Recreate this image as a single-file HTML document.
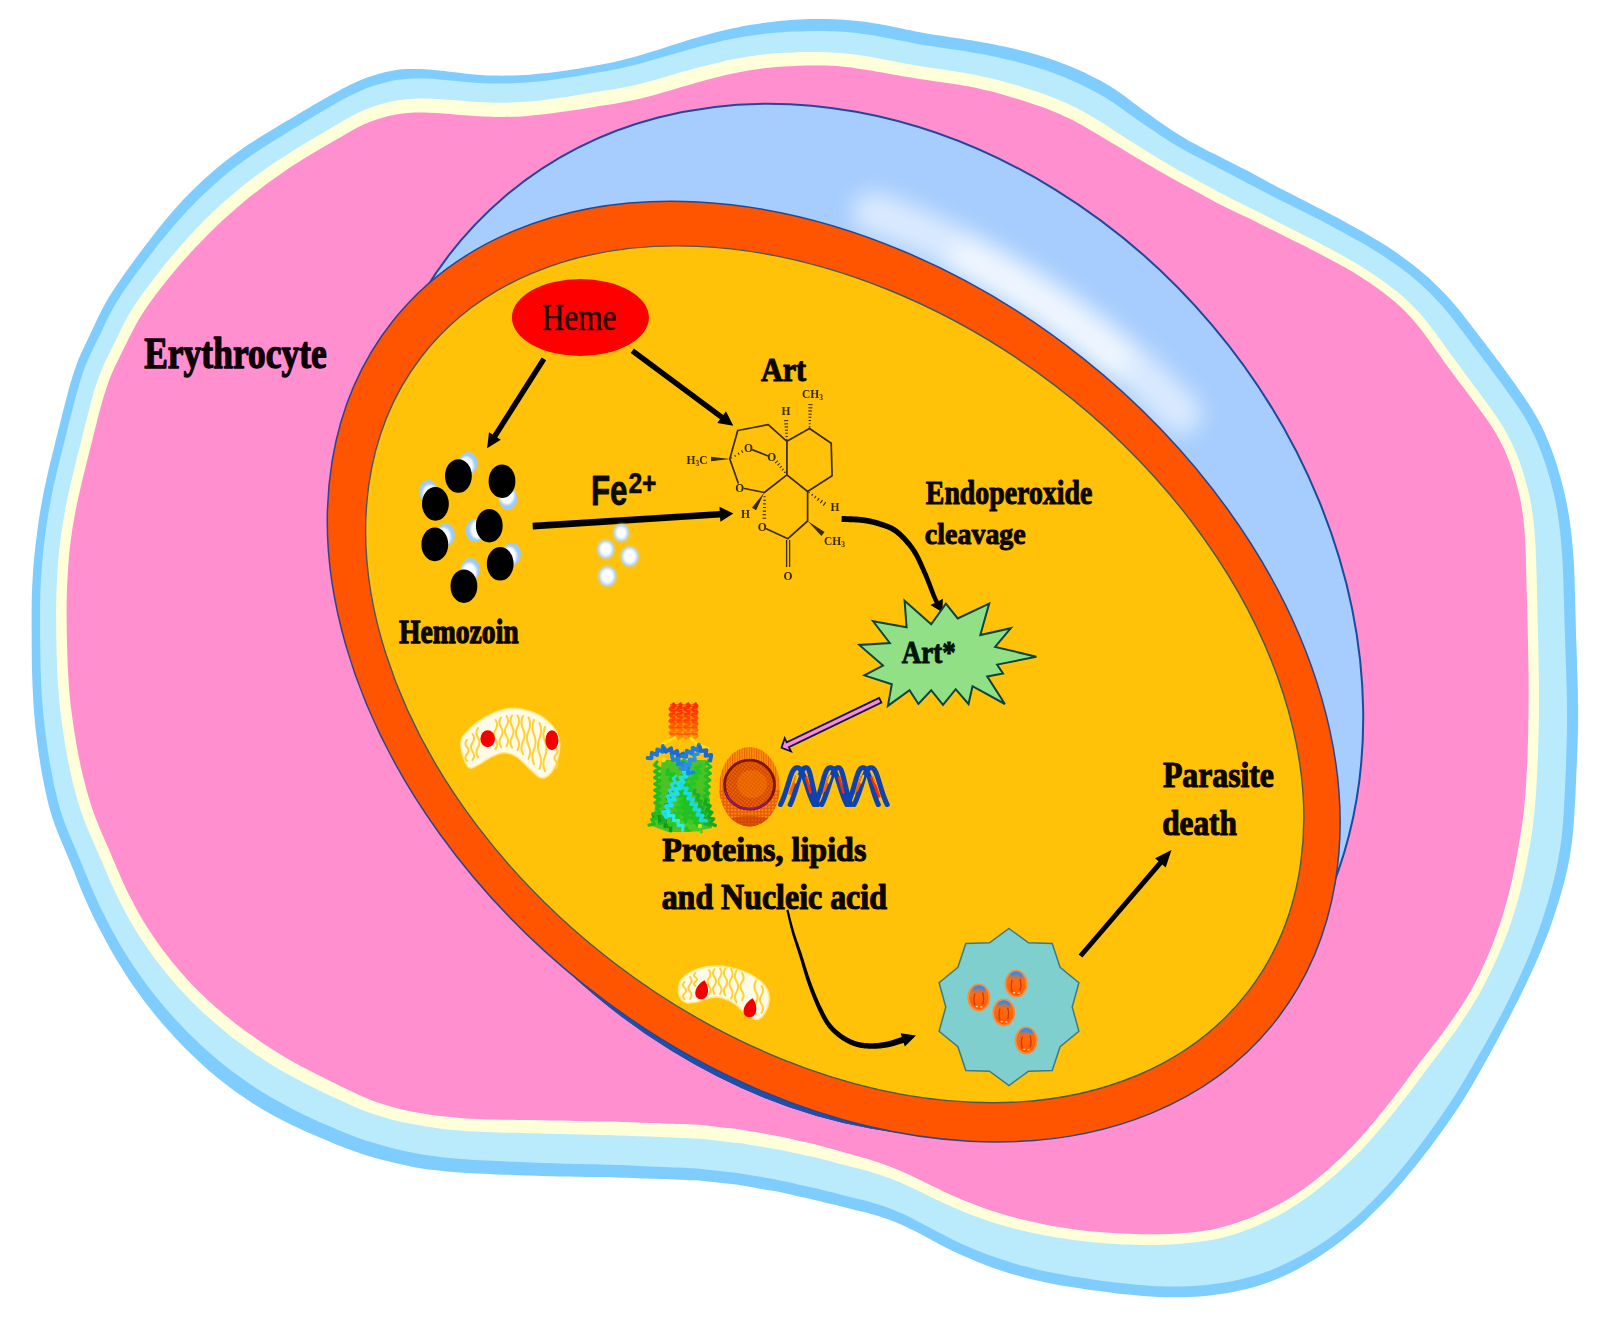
<!DOCTYPE html>
<html><head><meta charset="utf-8"><title>Artemisinin mechanism</title>
<style>html,body{margin:0;padding:0;background:#fff}svg{display:block}</style></head>
<body>
<svg width="1608" height="1322" viewBox="0 0 1608 1322">
<defs>
<filter id="b05" x="-5%" y="-5%" width="110%" height="110%"><feGaussianBlur stdDeviation="0.5"/></filter>
<filter id="b1" x="-10%" y="-10%" width="120%" height="120%"><feGaussianBlur stdDeviation="1"/></filter>
<filter id="b2" x="-20%" y="-20%" width="140%" height="140%"><feGaussianBlur stdDeviation="1.6"/></filter>
<filter id="b12" filterUnits="userSpaceOnUse" x="700" y="50" width="700" height="600"><feGaussianBlur stdDeviation="11"/></filter>
<clipPath id="blueclip"><ellipse cx="863.4" cy="619.65" rx="554.7" ry="456.4" transform="rotate(49.73 863.4 619.65)"/></clipPath>
<radialGradient id="lipo" cx="0.45" cy="0.45" r="0.6"><stop offset="0" stop-color="#ff8a10"/><stop offset="0.6" stop-color="#f05a00"/><stop offset="1" stop-color="#d84000"/></radialGradient>
<linearGradient id="ves" x1="0" y1="0" x2="0" y2="1"><stop offset="0" stop-color="#3a8ae0"/><stop offset="0.35" stop-color="#ff6a10"/><stop offset="1" stop-color="#ff5a00"/></linearGradient>
</defs>
<rect width="1608" height="1322" fill="#fff"/>
<path d="M31.8,660.0C31.8,655.5 31.7,651.0 31.7,646.5C31.7,642.0 31.7,637.5 31.7,633.0C31.6,628.5 31.6,624.0 31.6,619.5C31.6,615.0 31.6,610.4 31.7,605.9C31.7,601.4 31.8,596.9 31.9,592.4C32.1,587.8 32.3,583.3 32.6,578.8C32.8,574.3 33.2,569.8 33.5,565.3C33.9,560.8 34.3,556.3 34.8,551.8C35.3,547.3 35.8,542.8 36.4,538.3C36.9,533.8 37.5,529.3 38.2,524.8C38.8,520.3 39.5,515.8 40.2,511.3C41.0,506.9 41.8,502.4 42.6,497.9C43.4,493.5 44.3,489.0 45.3,484.6C46.2,480.2 47.2,475.7 48.2,471.3C49.3,466.9 50.3,462.5 51.4,458.1C52.5,453.7 53.6,449.3 54.7,444.9C55.8,440.4 56.9,436.0 58.0,431.6C59.1,427.2 60.2,422.8 61.3,418.4C62.4,413.9 63.5,409.5 64.7,405.1C65.8,400.7 66.9,396.2 68.1,391.8C69.3,387.4 70.5,383.0 71.9,378.6C73.2,374.2 74.6,369.8 76.2,365.5C77.7,361.2 79.5,357.0 81.3,352.8C83.1,348.6 85.2,344.5 87.2,340.4C89.1,336.3 91.2,332.2 93.1,328.0C95.1,323.9 97.0,319.7 99.0,315.6C101.0,311.5 103.0,307.4 105.2,303.4C107.5,299.5 109.9,295.6 112.3,291.7C114.8,287.9 117.5,284.1 120.1,280.3C122.7,276.6 125.3,272.8 128.0,269.1C130.6,265.4 133.3,261.7 136.0,258.0C138.7,254.3 141.4,250.7 144.2,247.1C146.9,243.4 149.7,239.8 152.5,236.2C155.3,232.7 158.1,229.1 160.9,225.6C163.8,222.1 166.7,218.5 169.6,215.1C172.5,211.6 175.5,208.2 178.5,204.9C181.6,201.5 184.7,198.2 187.9,195.0C191.0,191.7 194.3,188.5 197.5,185.4C200.8,182.3 204.1,179.2 207.5,176.2C210.9,173.1 214.3,170.2 217.8,167.3C221.3,164.4 224.8,161.5 228.4,158.8C232.0,156.0 235.7,153.3 239.4,150.7C243.1,148.1 246.9,145.6 250.7,143.1C254.5,140.6 258.4,138.2 262.2,135.8C266.0,133.4 269.9,131.1 273.8,128.8C277.6,126.4 281.5,124.1 285.3,121.8C289.1,119.5 293.0,117.3 296.8,115.0C300.6,112.7 304.4,110.5 308.2,108.3C312.0,106.0 315.8,103.8 319.6,101.6C323.4,99.4 327.2,97.2 331.0,95.1C334.8,92.9 338.5,90.8 342.4,88.7C346.3,86.7 350.2,84.7 354.1,82.9C358.1,81.1 362.2,79.4 366.3,77.8C370.5,76.3 374.7,74.9 379.0,73.7C383.4,72.5 387.8,71.5 392.4,70.7C396.9,69.9 401.6,69.4 406.4,69.1C411.2,68.8 416.2,68.9 421.2,69.1C426.3,69.3 431.4,69.8 436.5,70.3C441.6,70.8 446.7,71.5 451.7,72.1C456.7,72.6 461.7,73.2 466.5,73.7C471.3,74.2 476.1,74.6 480.7,74.9C485.3,75.2 489.8,75.4 494.2,75.5C498.7,75.7 503.0,75.7 507.3,75.6C511.5,75.6 515.7,75.5 519.8,75.3C523.9,75.1 528.0,74.8 532.0,74.5C536.0,74.1 539.9,73.7 543.8,73.3C547.7,72.9 551.6,72.4 555.4,71.9C559.2,71.5 563.0,70.9 566.8,70.4C570.6,69.8 574.3,69.3 578.0,68.7C581.7,68.1 585.4,67.5 589.1,66.8C592.8,66.2 596.4,65.5 600.1,64.8C603.7,64.1 607.3,63.4 610.9,62.7C614.5,61.9 618.1,61.1 621.6,60.2C625.2,59.3 628.7,58.4 632.2,57.5C635.7,56.5 639.3,55.5 642.8,54.5C646.2,53.4 649.7,52.4 653.2,51.3C656.7,50.2 660.2,49.0 663.7,47.9C667.2,46.8 670.7,45.6 674.2,44.5C677.7,43.4 681.2,42.3 684.7,41.2C688.2,40.1 691.8,39.0 695.3,38.0C698.9,37.0 702.4,36.0 706.0,35.0C709.6,34.0 713.2,33.0 716.8,32.1C720.4,31.2 724.0,30.3 727.6,29.5C731.2,28.7 734.8,27.9 738.5,27.2C742.1,26.4 745.8,25.8 749.5,25.1C753.1,24.5 756.8,23.9 760.5,23.4C764.2,22.8 767.9,22.3 771.6,21.9C775.3,21.4 779.0,21.0 782.7,20.7C786.4,20.4 790.1,20.1 793.8,19.8C797.5,19.6 801.3,19.4 805.0,19.3C808.7,19.1 812.5,19.1 816.2,19.0C819.9,19.0 823.7,19.0 827.4,19.0C831.1,19.1 834.8,19.2 838.6,19.4C842.3,19.6 846.0,19.9 849.7,20.2C853.5,20.5 857.2,20.9 860.9,21.3C864.6,21.8 868.3,22.3 872.0,22.9C875.7,23.4 879.3,24.1 883.0,24.8C886.7,25.4 890.3,26.2 894.0,26.9C897.6,27.6 901.3,28.4 904.9,29.2C908.6,29.9 912.2,30.7 915.8,31.4C919.5,32.1 923.1,32.8 926.8,33.5C930.4,34.1 934.1,34.7 937.8,35.2C941.5,35.8 945.2,36.3 948.9,36.9C952.6,37.4 956.3,37.9 960.0,38.5C963.7,39.1 967.4,39.7 971.1,40.3C974.8,40.9 978.5,41.5 982.2,42.2C985.9,42.8 989.6,43.5 993.3,44.2C997.0,45.0 1000.7,45.7 1004.3,46.5C1008.0,47.3 1011.7,48.1 1015.4,49.0C1019.1,49.8 1022.7,50.8 1026.4,51.7C1030.0,52.7 1033.7,53.7 1037.3,54.8C1040.9,55.9 1044.6,57.0 1048.2,58.2C1051.8,59.3 1055.3,60.6 1058.9,61.9C1062.4,63.2 1065.9,64.6 1069.4,66.1C1072.9,67.5 1076.4,69.0 1079.8,70.6C1083.3,72.2 1086.7,73.7 1090.1,75.4C1093.5,77.1 1096.9,78.8 1100.2,80.6C1103.5,82.4 1106.8,84.3 1110.1,86.3C1113.3,88.3 1116.5,90.3 1119.6,92.5C1122.7,94.7 1125.7,97.0 1128.7,99.3C1131.8,101.5 1134.8,103.9 1137.8,106.1C1140.8,108.4 1143.8,110.6 1146.9,112.8C1150.0,115.0 1153.0,117.2 1156.1,119.4C1159.2,121.5 1162.2,123.7 1165.3,125.8C1168.4,127.9 1171.5,130.0 1174.7,132.0C1177.9,134.0 1181.0,136.0 1184.3,137.9C1187.5,139.9 1190.8,141.7 1194.2,143.5C1197.5,145.4 1200.9,147.1 1204.3,148.9C1207.7,150.7 1211.2,152.4 1214.6,154.1C1218.1,155.9 1221.6,157.6 1225.1,159.4C1228.6,161.1 1232.1,162.9 1235.6,164.7C1239.1,166.5 1242.6,168.3 1246.1,170.1C1249.6,172.0 1253.1,173.9 1256.6,175.8C1260.1,177.7 1263.5,179.6 1267.1,181.5C1270.6,183.4 1274.2,185.3 1277.8,187.2C1281.4,189.1 1285.1,191.0 1288.8,192.8C1292.4,194.7 1296.2,196.6 1299.9,198.5C1303.7,200.4 1307.4,202.3 1311.2,204.2C1315.0,206.2 1318.8,208.1 1322.6,210.1C1326.4,212.0 1330.2,214.0 1334.1,216.1C1337.9,218.1 1341.7,220.1 1345.6,222.2C1349.4,224.3 1353.3,226.5 1357.1,228.6C1361.0,230.8 1364.9,233.0 1368.7,235.2C1372.5,237.5 1376.4,239.7 1380.2,242.1C1384.0,244.5 1387.8,246.9 1391.5,249.3C1395.2,251.8 1398.9,254.4 1402.5,257.0C1406.1,259.6 1409.7,262.2 1413.3,265.0C1416.8,267.7 1420.2,270.6 1423.6,273.5C1427.0,276.4 1430.3,279.3 1433.5,282.4C1436.7,285.4 1439.8,288.5 1442.9,291.7C1446.0,294.9 1449.0,298.1 1451.9,301.4C1454.8,304.7 1457.6,308.1 1460.4,311.5C1463.1,315.0 1465.8,318.4 1468.5,321.9C1471.2,325.4 1473.9,328.9 1476.6,332.4C1479.3,336.0 1482.0,339.5 1484.7,343.0C1487.4,346.6 1490.2,350.2 1492.9,353.7C1495.6,357.3 1498.2,361.0 1500.9,364.6C1503.6,368.2 1506.3,371.9 1508.9,375.6C1511.6,379.3 1514.3,383.0 1516.9,386.7C1519.5,390.5 1522.2,394.2 1524.7,398.0C1527.3,401.9 1529.8,405.7 1532.2,409.6C1534.6,413.5 1536.9,417.5 1539.1,421.5C1541.2,425.5 1543.2,429.6 1545.1,433.7C1546.9,437.9 1548.6,442.1 1550.3,446.3C1551.9,450.5 1553.4,454.8 1554.9,459.1C1556.3,463.4 1557.7,467.7 1558.9,472.0C1560.2,476.4 1561.4,480.7 1562.5,485.1C1563.6,489.5 1564.7,493.9 1565.6,498.3C1566.6,502.7 1567.4,507.2 1568.2,511.6C1569.0,516.1 1569.7,520.6 1570.3,525.1C1570.9,529.5 1571.4,534.0 1571.9,538.5C1572.3,543.0 1572.7,547.5 1573.1,552.1C1573.5,556.6 1573.8,561.1 1574.0,565.6C1574.2,570.1 1574.4,574.6 1574.6,579.1C1574.7,583.6 1574.8,588.1 1574.9,592.6C1575.1,597.1 1575.2,601.6 1575.3,606.1C1575.4,610.6 1575.5,615.1 1575.7,619.6C1575.8,624.1 1575.9,628.6 1576.0,633.1C1576.2,637.6 1576.3,642.0 1576.5,646.5C1576.6,651.0 1576.8,655.5 1576.9,660.0C1577.0,664.5 1577.2,669.0 1577.3,673.5C1577.5,678.0 1577.6,682.5 1577.7,687.0C1577.9,691.5 1578.0,696.0 1578.0,700.5C1578.1,705.0 1578.2,709.5 1578.2,714.1C1578.2,718.6 1578.1,723.1 1578.1,727.6C1578.0,732.2 1577.9,736.7 1577.7,741.2C1577.6,745.7 1577.4,750.3 1577.2,754.8C1577.0,759.4 1576.8,763.9 1576.6,768.4C1576.4,773.0 1576.2,777.6 1576.0,782.1C1575.8,786.7 1575.6,791.3 1575.4,795.8C1575.1,800.4 1574.9,805.0 1574.6,809.6C1574.4,814.2 1574.1,818.8 1573.7,823.4C1573.4,828.0 1573.0,832.6 1572.5,837.2C1572.0,841.8 1571.4,846.4 1570.7,850.9C1570.0,855.5 1569.2,860.0 1568.3,864.5C1567.4,869.0 1566.3,873.5 1565.2,878.0C1564.1,882.5 1562.9,886.9 1561.7,891.3C1560.5,895.8 1559.1,900.2 1557.8,904.6C1556.4,909.0 1555.0,913.4 1553.5,917.7C1552.0,922.1 1550.5,926.4 1548.9,930.7C1547.3,935.1 1545.6,939.4 1543.9,943.6C1542.2,947.9 1540.4,952.2 1538.6,956.4C1536.8,960.6 1534.9,964.8 1533.0,969.0C1531.1,973.2 1529.1,977.4 1527.2,981.5C1525.2,985.7 1523.2,989.8 1521.2,994.0C1519.1,998.1 1517.1,1002.2 1515.0,1006.3C1513.0,1010.4 1510.9,1014.5 1508.8,1018.6C1506.6,1022.7 1504.5,1026.7 1502.3,1030.8C1500.2,1034.8 1498.0,1038.9 1495.8,1042.9C1493.6,1047.0 1491.4,1051.0 1489.2,1055.0C1486.9,1059.0 1484.7,1063.0 1482.5,1067.1C1480.2,1071.1 1478.0,1075.1 1475.7,1079.1C1473.5,1083.1 1471.2,1087.1 1468.8,1091.1C1466.4,1095.0 1464.0,1098.9 1461.5,1102.8C1459.0,1106.7 1456.4,1110.5 1453.8,1114.3C1451.2,1118.1 1448.6,1121.9 1445.9,1125.7C1443.3,1129.4 1440.6,1133.2 1437.8,1136.9C1435.1,1140.6 1432.4,1144.3 1429.6,1148.0C1426.8,1151.7 1424.0,1155.3 1421.1,1158.9C1418.3,1162.6 1415.4,1166.2 1412.5,1169.8C1409.6,1173.3 1406.6,1176.9 1403.6,1180.4C1400.6,1183.9 1397.6,1187.3 1394.5,1190.7C1391.4,1194.2 1388.2,1197.5 1385.0,1200.9C1381.8,1204.2 1378.6,1207.5 1375.3,1210.8C1372.0,1214.0 1368.7,1217.2 1365.4,1220.4C1362.0,1223.5 1358.6,1226.6 1355.1,1229.6C1351.6,1232.6 1348.0,1235.6 1344.4,1238.5C1340.8,1241.3 1337.1,1244.1 1333.4,1246.8C1329.7,1249.6 1325.9,1252.2 1322.0,1254.7C1318.1,1257.3 1314.2,1259.8 1310.2,1262.1C1306.3,1264.5 1302.2,1266.8 1298.1,1269.0C1294.0,1271.1 1289.8,1273.2 1285.6,1275.2C1281.4,1277.1 1277.1,1279.0 1272.7,1280.7C1268.3,1282.4 1263.9,1283.9 1259.3,1285.4C1254.8,1286.8 1250.2,1288.0 1245.6,1289.2C1240.9,1290.3 1236.2,1291.3 1231.4,1292.2C1226.7,1293.1 1221.9,1293.9 1217.1,1294.5C1212.3,1295.2 1207.4,1295.8 1202.5,1296.2C1197.7,1296.6 1192.8,1296.9 1187.8,1297.1C1182.9,1297.3 1177.9,1297.4 1173.0,1297.3C1168.0,1297.3 1163.0,1297.1 1158.0,1296.9C1153.1,1296.6 1148.1,1296.3 1143.1,1295.9C1138.2,1295.5 1133.2,1295.1 1128.3,1294.6C1123.4,1294.1 1118.5,1293.5 1113.7,1292.9C1108.9,1292.4 1104.1,1291.7 1099.3,1291.1C1094.5,1290.5 1089.8,1289.8 1085.1,1289.2C1080.4,1288.5 1075.8,1287.8 1071.2,1287.1C1066.5,1286.3 1062.0,1285.6 1057.4,1284.7C1052.8,1283.9 1048.3,1283.0 1043.8,1282.0C1039.2,1281.0 1034.7,1280.0 1030.3,1278.9C1025.8,1277.8 1021.3,1276.6 1016.9,1275.3C1012.4,1274.1 1008.0,1272.8 1003.7,1271.4C999.3,1270.0 994.9,1268.6 990.6,1267.0C986.3,1265.5 981.9,1263.9 977.7,1262.1C973.4,1260.4 969.1,1258.5 964.9,1256.6C960.6,1254.7 956.4,1252.7 952.3,1250.7C948.1,1248.6 944.0,1246.5 939.9,1244.4C935.9,1242.3 931.8,1240.1 927.9,1238.0C923.9,1235.9 920.0,1233.8 916.2,1231.8C912.3,1229.9 908.5,1227.9 904.8,1226.2C901.1,1224.5 897.5,1222.9 893.9,1221.5C890.4,1220.1 886.8,1218.8 883.4,1217.7C879.9,1216.5 876.5,1215.5 873.1,1214.5C869.7,1213.5 866.3,1212.7 863.0,1211.8C859.7,1210.9 856.4,1210.2 853.1,1209.4C849.8,1208.6 846.5,1207.8 843.2,1207.0C840.0,1206.2 836.8,1205.4 833.5,1204.6C830.3,1203.8 827.1,1202.9 823.9,1202.2C820.7,1201.4 817.6,1200.6 814.4,1199.9C811.3,1199.2 808.1,1198.5 805.0,1197.8C801.9,1197.1 798.8,1196.4 795.6,1195.7C792.5,1195.0 789.5,1194.2 786.4,1193.6C783.3,1192.9 780.2,1192.2 777.1,1191.6C774.1,1191.0 771.0,1190.5 767.9,1190.0C764.9,1189.4 761.8,1188.9 758.8,1188.4C755.7,1187.9 752.7,1187.3 749.6,1186.8C746.6,1186.3 743.6,1185.7 740.5,1185.3C737.5,1184.8 734.4,1184.4 731.3,1184.1C728.3,1183.7 725.2,1183.4 722.2,1183.0C719.1,1182.7 716.0,1182.3 713.0,1182.0C709.9,1181.6 706.8,1181.3 703.7,1181.0C700.6,1180.7 697.5,1180.5 694.4,1180.3C691.3,1180.1 688.1,1180.0 685.0,1179.9C681.8,1179.8 678.6,1179.7 675.5,1179.5C672.3,1179.4 669.1,1179.3 665.9,1179.1C662.7,1179.0 659.5,1178.9 656.2,1178.8C653.0,1178.7 649.7,1178.6 646.5,1178.5C643.2,1178.4 639.9,1178.3 636.6,1178.2C633.3,1178.0 630.0,1177.9 626.7,1177.8C623.4,1177.6 620.1,1177.5 616.7,1177.4C613.3,1177.3 609.9,1177.2 606.5,1177.1C603.1,1177.0 599.6,1177.0 596.1,1176.9C592.7,1176.9 589.1,1176.9 585.6,1176.9C582.1,1176.8 578.5,1176.8 574.9,1176.7C571.3,1176.7 567.7,1176.6 564.1,1176.6C560.5,1176.5 556.9,1176.4 553.2,1176.3C549.5,1176.2 545.8,1176.1 542.1,1176.0C538.4,1175.9 534.6,1175.8 530.8,1175.6C527.0,1175.5 523.2,1175.4 519.4,1175.3C515.5,1175.1 511.7,1175.0 507.8,1174.8C503.9,1174.7 499.9,1174.5 495.9,1174.4C492.0,1174.2 488.0,1174.0 483.9,1173.8C479.9,1173.6 475.8,1173.4 471.7,1173.2C467.6,1173.0 463.5,1172.7 459.4,1172.4C455.3,1172.1 451.1,1171.8 446.9,1171.4C442.8,1171.0 438.6,1170.6 434.4,1170.1C430.2,1169.6 426.0,1169.0 421.9,1168.4C417.7,1167.8 413.6,1167.0 409.5,1166.2C405.4,1165.4 401.3,1164.5 397.2,1163.6C393.1,1162.7 389.0,1161.7 385.0,1160.6C380.9,1159.5 376.8,1158.4 372.8,1157.2C368.7,1156.0 364.7,1154.8 360.7,1153.4C356.7,1152.1 352.7,1150.7 348.7,1149.3C344.8,1147.8 340.8,1146.3 336.9,1144.7C333.0,1143.2 329.1,1141.5 325.2,1139.8C321.2,1138.2 317.3,1136.5 313.4,1134.8C309.4,1133.0 305.5,1131.3 301.5,1129.5C297.6,1127.7 293.6,1125.9 289.7,1124.0C285.8,1122.1 281.9,1120.1 278.1,1118.1C274.2,1116.0 270.4,1113.9 266.7,1111.7C262.9,1109.5 259.2,1107.3 255.5,1105.0C251.8,1102.6 248.2,1100.3 244.6,1097.8C241.0,1095.4 237.4,1092.9 233.9,1090.4C230.4,1087.8 226.9,1085.2 223.5,1082.5C220.0,1079.8 216.7,1077.1 213.3,1074.3C210.0,1071.5 206.7,1068.7 203.5,1065.7C200.2,1062.8 197.0,1059.9 193.9,1056.8C190.8,1053.8 187.7,1050.8 184.6,1047.7C181.5,1044.6 178.5,1041.4 175.5,1038.2C172.5,1035.0 169.6,1031.8 166.6,1028.6C163.7,1025.3 160.9,1022.0 158.1,1018.6C155.3,1015.2 152.6,1011.8 149.9,1008.3C147.2,1004.9 144.5,1001.4 141.9,997.9C139.3,994.3 136.7,990.8 134.2,987.2C131.7,983.6 129.2,979.9 126.8,976.2C124.4,972.6 122.1,968.8 119.8,965.1C117.4,961.3 115.2,957.6 113.0,953.7C110.8,949.9 108.7,946.1 106.6,942.2C104.4,938.3 102.4,934.4 100.3,930.5C98.3,926.6 96.3,922.6 94.3,918.7C92.4,914.7 90.5,910.7 88.6,906.7C86.8,902.6 85.0,898.6 83.2,894.5C81.5,890.4 79.9,886.3 78.2,882.2C76.5,878.1 74.9,873.9 73.3,869.8C71.6,865.7 69.9,861.6 68.2,857.4C66.5,853.3 64.7,849.2 62.9,845.0C61.2,840.9 59.4,836.7 57.7,832.5C56.1,828.3 54.5,824.1 53.1,819.8C51.6,815.6 50.3,811.3 49.2,806.9C48.0,802.6 46.9,798.2 46.0,793.8C45.0,789.5 44.1,785.1 43.3,780.6C42.4,776.2 41.6,771.8 40.9,767.4C40.2,763.0 39.5,758.5 38.8,754.1C38.2,749.6 37.6,745.2 37.0,740.7C36.4,736.3 35.9,731.8 35.4,727.3C35.0,722.9 34.6,718.4 34.2,713.9C33.8,709.4 33.5,704.9 33.3,700.4C33.0,696.0 32.8,691.5 32.6,687.0C32.4,682.5 32.3,678.0 32.1,673.5C32.0,669.0 31.9,664.5 31.8,660.0Z" fill="#7fcdfe"/>
<path d="M40.4,660.0C40.3,655.6 40.3,651.1 40.2,646.7C40.2,642.2 40.1,637.7 40.1,633.3C40.1,628.8 40.1,624.4 40.1,619.9C40.1,615.4 40.0,611.0 40.1,606.5C40.1,602.0 40.2,597.6 40.3,593.1C40.5,588.6 40.7,584.2 40.9,579.7C41.2,575.2 41.5,570.8 41.9,566.3C42.2,561.8 42.6,557.4 43.1,552.9C43.5,548.5 44.0,544.0 44.6,539.6C45.1,535.1 45.7,530.7 46.4,526.2C47.0,521.8 47.7,517.4 48.5,512.9C49.2,508.5 50.0,504.1 50.9,499.7C51.7,495.3 52.6,490.9 53.6,486.5C54.5,482.1 55.5,477.8 56.5,473.4C57.6,469.0 58.6,464.7 59.7,460.3C60.8,455.9 61.9,451.6 63.0,447.2C64.1,442.9 65.2,438.5 66.3,434.1C67.4,429.8 68.4,425.4 69.5,421.0C70.6,416.7 71.7,412.3 72.9,407.9C74.0,403.5 75.1,399.1 76.3,394.8C77.5,390.4 78.7,386.0 80.0,381.7C81.4,377.4 82.8,373.1 84.3,368.8C85.9,364.6 87.7,360.4 89.5,356.3C91.3,352.2 93.4,348.1 95.3,344.0C97.3,340.0 99.3,335.9 101.3,331.9C103.2,327.8 105.1,323.7 107.1,319.6C109.1,315.6 111.2,311.5 113.4,307.6C115.6,303.7 118.0,299.8 120.5,296.0C122.9,292.2 125.6,288.5 128.2,284.8C130.8,281.1 133.4,277.5 136.1,273.8C138.8,270.2 141.4,266.5 144.1,262.9C146.9,259.3 149.6,255.7 152.4,252.2C155.1,248.6 157.9,245.1 160.7,241.6C163.6,238.1 166.4,234.6 169.3,231.2C172.2,227.8 175.1,224.4 178.0,221.0C181.0,217.6 184.0,214.3 187.0,211.0C190.1,207.8 193.2,204.5 196.4,201.4C199.6,198.2 202.8,195.1 206.1,192.1C209.3,189.0 212.6,186.0 216.0,183.0C219.3,180.1 222.7,177.2 226.2,174.3C229.6,171.5 233.1,168.7 236.7,166.0C240.3,163.3 243.9,160.6 247.5,158.0C251.2,155.5 254.9,153.0 258.6,150.5C262.4,148.0 266.1,145.6 269.9,143.3C273.7,140.9 277.5,138.6 281.3,136.3C285.0,133.9 288.8,131.6 292.5,129.3C296.3,127.0 300.0,124.8 303.8,122.5C307.5,120.3 311.3,118.0 315.0,115.8C318.7,113.5 322.4,111.3 326.1,109.1C329.8,106.9 333.5,104.7 337.3,102.6C341.0,100.5 344.8,98.4 348.6,96.4C352.5,94.5 356.4,92.6 360.4,90.9C364.3,89.2 368.4,87.6 372.6,86.1C376.7,84.7 381.0,83.4 385.3,82.4C389.7,81.3 394.2,80.4 398.7,79.8C403.3,79.1 408.0,78.7 412.8,78.5C417.6,78.3 422.5,78.4 427.4,78.6C432.4,78.8 437.4,79.2 442.4,79.7C447.3,80.1 452.3,80.7 457.2,81.1C462.0,81.6 466.8,82.0 471.5,82.4C476.2,82.8 480.8,83.1 485.3,83.3C489.8,83.5 494.2,83.6 498.5,83.6C502.8,83.6 507.0,83.5 511.2,83.4C515.4,83.3 519.4,83.0 523.5,82.8C527.5,82.5 531.4,82.1 535.3,81.7C539.3,81.3 543.1,80.9 546.9,80.4C550.8,79.9 554.6,79.4 558.3,78.9C562.1,78.3 565.8,77.8 569.5,77.2C573.2,76.6 576.9,76.0 580.6,75.4C584.2,74.7 587.9,74.0 591.5,73.4C595.1,72.8 598.8,72.3 602.4,71.7C606.0,71.0 609.6,70.4 613.2,69.7C616.8,69.0 620.3,68.3 623.9,67.5C627.4,66.8 630.9,65.9 634.4,65.1C637.9,64.2 641.4,63.3 644.8,62.3C648.3,61.4 651.8,60.3 655.2,59.3C658.7,58.3 662.2,57.3 665.6,56.3C669.1,55.2 672.5,54.2 676.0,53.2C679.5,52.2 683.0,51.1 686.5,50.2C689.9,49.2 693.4,48.2 697.0,47.2C700.5,46.3 704.0,45.4 707.5,44.5C711.0,43.6 714.6,42.7 718.1,41.9C721.7,41.1 725.2,40.3 728.8,39.6C732.4,38.8 736.0,38.1 739.6,37.5C743.2,36.8 746.8,36.3 750.4,35.7C754.0,35.2 757.6,34.7 761.2,34.2C764.9,33.8 768.5,33.4 772.1,33.1C775.8,32.7 779.4,32.4 783.1,32.2C786.7,31.9 790.4,31.7 794.0,31.6C797.7,31.5 801.3,31.4 805.0,31.3C808.7,31.2 812.3,31.1 816.0,31.1C819.6,31.0 823.3,31.0 827.0,31.1C830.6,31.2 834.3,31.3 837.9,31.5C841.6,31.7 845.2,32.0 848.9,32.3C852.5,32.7 856.2,33.1 859.8,33.5C863.4,34.0 867.1,34.5 870.7,35.1C874.3,35.6 877.9,36.3 881.5,36.9C885.1,37.5 888.7,38.2 892.3,38.9C895.9,39.6 899.4,40.4 903.0,41.1C906.6,41.8 910.2,42.5 913.8,43.2C917.3,43.9 920.9,44.5 924.5,45.1C928.1,45.8 931.7,46.3 935.3,46.8C938.9,47.4 942.6,47.9 946.2,48.4C949.8,48.9 953.5,49.5 957.1,50.0C960.7,50.6 964.4,51.1 968.0,51.7C971.6,52.3 975.2,53.0 978.9,53.6C982.5,54.3 986.1,55.0 989.8,55.7C993.4,56.4 997.0,57.2 1000.6,58.0C1004.2,58.8 1007.8,59.6 1011.4,60.5C1015.0,61.4 1018.6,62.3 1022.2,63.3C1025.8,64.3 1029.3,65.3 1032.9,66.3C1036.4,67.4 1040.0,68.5 1043.5,69.6C1047.0,70.8 1050.6,72.0 1054.1,73.3C1057.5,74.5 1061.0,75.9 1064.4,77.3C1067.9,78.7 1071.3,80.2 1074.7,81.7C1078.1,83.2 1081.4,84.8 1084.8,86.4C1088.1,88.0 1091.4,89.7 1094.7,91.5C1097.9,93.3 1101.2,95.1 1104.3,97.0C1107.5,98.9 1110.6,101.0 1113.7,103.0C1116.8,105.1 1119.8,107.3 1122.9,109.4C1125.9,111.6 1128.9,113.8 1131.9,115.9C1134.9,118.1 1138.0,120.2 1141.0,122.3C1144.0,124.4 1147.1,126.5 1150.1,128.5C1153.2,130.6 1156.3,132.6 1159.3,134.7C1162.4,136.7 1165.5,138.7 1168.6,140.7C1171.8,142.7 1174.9,144.6 1178.1,146.5C1181.3,148.3 1184.6,150.2 1187.8,152.0C1191.1,153.8 1194.4,155.5 1197.8,157.3C1201.1,159.0 1204.5,160.7 1207.9,162.5C1211.3,164.2 1214.7,166.0 1218.1,167.7C1221.5,169.5 1224.9,171.2 1228.3,173.0C1231.8,174.8 1235.2,176.6 1238.6,178.4C1242.1,180.2 1245.5,182.0 1249.0,183.9C1252.5,185.7 1256.0,187.5 1259.5,189.4C1263.0,191.2 1266.5,193.1 1270.1,194.9C1273.7,196.7 1277.3,198.5 1280.9,200.4C1284.6,202.2 1288.3,204.1 1291.9,205.9C1295.6,207.8 1299.3,209.7 1303.0,211.6C1306.8,213.4 1310.5,215.3 1314.3,217.3C1318.1,219.2 1321.9,221.1 1325.6,223.1C1329.4,225.1 1333.2,227.1 1337.0,229.2C1340.9,231.2 1344.7,233.3 1348.5,235.4C1352.3,237.5 1356.2,239.6 1360.0,241.8C1363.8,244.0 1367.6,246.2 1371.4,248.5C1375.2,250.8 1378.9,253.1 1382.6,255.5C1386.3,258.0 1390.0,260.4 1393.6,263.0C1397.2,265.5 1400.8,268.1 1404.3,270.8C1407.8,273.5 1411.3,276.2 1414.6,279.1C1418.0,281.9 1421.3,284.8 1424.5,287.8C1427.7,290.8 1430.8,293.8 1433.8,297.0C1436.8,300.1 1439.8,303.3 1442.7,306.5C1445.5,309.8 1448.2,313.2 1451.0,316.5C1453.7,319.9 1456.3,323.4 1458.9,326.8C1461.6,330.2 1464.2,333.7 1466.8,337.2C1469.5,340.7 1472.1,344.2 1474.8,347.7C1477.4,351.2 1480.1,354.7 1482.7,358.2C1485.4,361.8 1488.1,365.3 1490.7,368.9C1493.4,372.5 1496.0,376.1 1498.7,379.7C1501.3,383.4 1504.0,387.0 1506.6,390.7C1509.3,394.3 1511.9,398.0 1514.5,401.8C1517.0,405.5 1519.6,409.3 1522.0,413.1C1524.4,417.0 1526.7,420.8 1528.9,424.8C1531.0,428.8 1533.0,432.8 1534.9,436.8C1536.8,440.9 1538.5,445.0 1540.1,449.2C1541.8,453.4 1543.3,457.6 1544.7,461.8C1546.1,466.0 1547.5,470.3 1548.7,474.6C1550.0,478.9 1551.1,483.2 1552.2,487.5C1553.3,491.8 1554.3,496.2 1555.2,500.5C1556.1,504.9 1556.9,509.3 1557.6,513.7C1558.3,518.1 1558.9,522.5 1559.5,527.0C1560.0,531.4 1560.5,535.8 1560.9,540.3C1561.3,544.7 1561.7,549.2 1562.0,553.6C1562.3,558.1 1562.6,562.5 1562.8,567.0C1563.0,571.4 1563.2,575.9 1563.3,580.3C1563.5,584.7 1563.6,589.2 1563.7,593.6C1563.9,598.1 1564.0,602.5 1564.1,606.9C1564.2,611.3 1564.4,615.8 1564.5,620.2C1564.6,624.6 1564.7,629.0 1564.9,633.5C1565.0,637.9 1565.2,642.3 1565.3,646.7C1565.5,651.2 1565.6,655.6 1565.7,660.0C1565.9,664.4 1566.0,668.9 1566.2,673.3C1566.3,677.7 1566.5,682.2 1566.6,686.6C1566.7,691.0 1566.8,695.5 1566.9,699.9C1567.0,704.4 1567.0,708.8 1567.0,713.3C1567.1,717.7 1567.0,722.2 1567.0,726.7C1566.9,731.1 1566.9,735.6 1566.7,740.1C1566.6,744.5 1566.5,749.0 1566.3,753.5C1566.2,758.0 1566.0,762.4 1565.9,766.9C1565.7,771.4 1565.5,775.9 1565.3,780.4C1565.1,784.9 1564.9,789.4 1564.7,794.0C1564.5,798.5 1564.3,803.0 1564.0,807.5C1563.8,812.1 1563.5,816.6 1563.1,821.1C1562.8,825.7 1562.4,830.2 1561.9,834.7C1561.4,839.3 1560.8,843.8 1560.1,848.3C1559.4,852.8 1558.6,857.2 1557.8,861.7C1556.9,866.2 1556.0,870.6 1555.0,875.0C1553.9,879.5 1552.9,883.9 1551.7,888.3C1550.6,892.7 1549.3,897.1 1548.1,901.4C1546.8,905.8 1545.4,910.1 1544.1,914.5C1542.7,918.8 1541.2,923.1 1539.7,927.4C1538.2,931.7 1536.7,936.0 1535.0,940.2C1533.4,944.5 1531.8,948.7 1530.0,952.9C1528.3,957.1 1526.5,961.3 1524.7,965.5C1522.9,969.7 1521.0,973.8 1519.1,977.9C1517.2,982.1 1515.3,986.2 1513.3,990.3C1511.3,994.4 1509.3,998.5 1507.3,1002.5C1505.3,1006.6 1503.2,1010.7 1501.1,1014.7C1499.0,1018.7 1496.9,1022.7 1494.7,1026.7C1492.5,1030.7 1490.3,1034.7 1488.1,1038.7C1485.9,1042.6 1483.7,1046.6 1481.4,1050.5C1479.2,1054.5 1476.9,1058.4 1474.6,1062.4C1472.4,1066.3 1470.1,1070.2 1467.8,1074.2C1465.5,1078.1 1463.2,1082.0 1460.8,1085.9C1458.4,1089.8 1456.0,1093.6 1453.5,1097.4C1451.1,1101.3 1448.6,1105.1 1446.0,1108.8C1443.5,1112.6 1440.9,1116.4 1438.3,1120.1C1435.7,1123.8 1433.0,1127.5 1430.3,1131.2C1427.7,1134.9 1425.0,1138.6 1422.2,1142.2C1419.5,1145.9 1416.7,1149.5 1414.0,1153.1C1411.2,1156.7 1408.4,1160.3 1405.5,1163.9C1402.6,1167.4 1399.7,1170.9 1396.8,1174.4C1393.8,1177.9 1390.8,1181.3 1387.8,1184.7C1384.7,1188.1 1381.6,1191.5 1378.5,1194.8C1375.3,1198.1 1372.2,1201.4 1368.9,1204.6C1365.7,1207.8 1362.5,1211.0 1359.1,1214.1C1355.8,1217.2 1352.3,1220.2 1348.8,1223.1C1345.3,1226.0 1341.7,1228.9 1338.1,1231.6C1334.4,1234.4 1330.7,1237.1 1327.0,1239.7C1323.2,1242.3 1319.4,1244.9 1315.5,1247.3C1311.7,1249.7 1307.7,1252.1 1303.7,1254.3C1299.7,1256.6 1295.7,1258.8 1291.5,1260.8C1287.4,1262.9 1283.3,1264.9 1279.0,1266.7C1274.8,1268.5 1270.5,1270.3 1266.1,1271.9C1261.7,1273.5 1257.3,1274.9 1252.7,1276.3C1248.2,1277.6 1243.6,1278.7 1238.9,1279.7C1234.3,1280.8 1229.6,1281.6 1224.8,1282.4C1220.1,1283.2 1215.3,1283.9 1210.5,1284.4C1205.7,1285.0 1200.9,1285.4 1196.0,1285.8C1191.2,1286.1 1186.3,1286.3 1181.4,1286.4C1176.5,1286.6 1171.6,1286.5 1166.7,1286.4C1161.8,1286.4 1156.8,1286.1 1151.9,1285.9C1147.0,1285.6 1142.1,1285.2 1137.2,1284.8C1132.3,1284.4 1127.4,1283.9 1122.6,1283.3C1117.8,1282.8 1113.0,1282.2 1108.2,1281.6C1103.4,1281.0 1098.7,1280.4 1094.0,1279.7C1089.3,1279.0 1084.6,1278.3 1080.0,1277.6C1075.3,1276.9 1070.8,1276.1 1066.2,1275.3C1061.6,1274.5 1057.1,1273.7 1052.6,1272.8C1048.1,1271.9 1043.6,1270.9 1039.1,1269.9C1034.7,1268.9 1030.2,1267.8 1025.8,1266.6C1021.4,1265.5 1017.0,1264.2 1012.6,1262.9C1008.2,1261.6 1003.9,1260.2 999.6,1258.8C995.2,1257.4 991.0,1255.9 986.7,1254.3C982.4,1252.7 978.2,1251.0 974.0,1249.3C969.8,1247.5 965.6,1245.6 961.4,1243.7C957.3,1241.8 953.1,1239.8 949.1,1237.8C945.0,1235.7 940.9,1233.6 937.0,1231.6C933.0,1229.5 929.0,1227.3 925.2,1225.3C921.3,1223.2 917.5,1221.2 913.7,1219.2C910.0,1217.3 906.3,1215.4 902.6,1213.8C899.0,1212.1 895.5,1210.7 892.0,1209.3C888.5,1207.9 885.1,1206.7 881.7,1205.6C878.3,1204.5 874.9,1203.5 871.6,1202.5C868.3,1201.6 865.0,1200.7 861.7,1199.8C858.5,1199.0 855.2,1198.2 852.0,1197.4C848.8,1196.6 845.6,1195.8 842.4,1195.0C839.2,1194.3 836.1,1193.4 832.9,1192.6C829.8,1191.8 826.6,1191.0 823.5,1190.2C820.4,1189.5 817.3,1188.7 814.2,1188.0C811.1,1187.3 808.1,1186.6 805.0,1186.0C801.9,1185.3 798.9,1184.6 795.9,1183.9C792.8,1183.2 789.8,1182.5 786.8,1181.8C783.8,1181.2 780.8,1180.5 777.8,1179.9C774.7,1179.4 771.7,1178.8 768.8,1178.3C765.8,1177.8 762.8,1177.3 759.8,1176.8C756.8,1176.3 753.8,1175.8 750.8,1175.2C747.9,1174.7 744.9,1174.2 741.9,1173.8C738.9,1173.3 736.0,1172.9 733.0,1172.5C730.0,1172.2 727.0,1171.9 724.0,1171.5C721.0,1171.2 718.0,1170.8 715.0,1170.5C712.0,1170.2 709.0,1169.8 706.0,1169.5C703.0,1169.1 699.9,1168.9 696.9,1168.6C693.8,1168.4 690.8,1168.2 687.7,1168.1C684.6,1167.9 681.5,1167.8 678.4,1167.6C675.3,1167.5 672.2,1167.3 669.1,1167.2C666.0,1167.0 662.8,1166.9 659.7,1166.8C656.5,1166.6 653.4,1166.5 650.2,1166.4C647.0,1166.2 643.8,1166.1 640.6,1166.0C637.4,1165.8 634.2,1165.7 630.9,1165.5C627.7,1165.4 624.4,1165.2 621.2,1165.1C617.9,1164.9 614.6,1164.8 611.3,1164.7C607.9,1164.6 604.6,1164.5 601.2,1164.4C597.8,1164.3 594.4,1164.3 591.0,1164.2C587.5,1164.2 584.1,1164.1 580.6,1164.0C577.1,1164.0 573.6,1163.9 570.1,1163.8C566.6,1163.7 563.0,1163.5 559.5,1163.4C555.9,1163.3 552.3,1163.2 548.7,1163.1C545.1,1162.9 541.4,1162.8 537.7,1162.7C534.1,1162.5 530.3,1162.4 526.6,1162.2C522.9,1162.1 519.1,1162.0 515.3,1161.8C511.5,1161.6 507.6,1161.5 503.8,1161.3C499.9,1161.2 496.0,1161.0 492.0,1160.8C488.1,1160.6 484.1,1160.5 480.1,1160.2C476.2,1160.0 472.1,1159.8 468.1,1159.5C464.0,1159.2 460.0,1158.9 455.9,1158.6C451.8,1158.2 447.7,1157.8 443.6,1157.4C439.5,1156.9 435.4,1156.4 431.4,1155.8C427.3,1155.3 423.2,1154.6 419.1,1153.9C415.1,1153.1 411.0,1152.3 407.0,1151.5C403.0,1150.6 398.9,1149.7 394.9,1148.7C390.9,1147.8 386.9,1146.7 382.9,1145.6C378.9,1144.5 374.9,1143.4 370.9,1142.1C366.9,1140.9 363.0,1139.6 359.1,1138.2C355.2,1136.8 351.3,1135.3 347.5,1133.8C343.6,1132.3 339.8,1130.7 336.0,1129.0C332.1,1127.4 328.3,1125.8 324.4,1124.1C320.6,1122.4 316.7,1120.7 312.9,1118.9C309.1,1117.1 305.2,1115.3 301.4,1113.5C297.6,1111.6 293.7,1109.7 290.0,1107.7C286.2,1105.7 282.4,1103.7 278.7,1101.6C275.0,1099.5 271.3,1097.4 267.6,1095.2C263.9,1093.0 260.3,1090.7 256.7,1088.4C253.1,1086.1 249.5,1083.7 246.0,1081.2C242.5,1078.8 239.0,1076.3 235.5,1073.7C232.1,1071.2 228.7,1068.6 225.3,1065.9C222.0,1063.2 218.6,1060.5 215.3,1057.7C212.1,1055.0 208.8,1052.1 205.6,1049.2C202.5,1046.3 199.3,1043.4 196.2,1040.4C193.1,1037.4 190.0,1034.4 186.9,1031.4C183.9,1028.3 180.9,1025.2 177.9,1022.1C174.9,1018.9 172.0,1015.7 169.2,1012.5C166.3,1009.2 163.5,1005.9 160.7,1002.6C158.0,999.2 155.3,995.8 152.6,992.4C149.9,989.0 147.3,985.5 144.8,982.0C142.2,978.5 139.7,975.0 137.2,971.4C134.8,967.8 132.3,964.2 130.0,960.5C127.6,956.9 125.3,953.2 123.1,949.5C120.8,945.7 118.7,942.0 116.5,938.2C114.4,934.4 112.3,930.6 110.2,926.7C108.1,922.9 106.1,919.0 104.2,915.1C102.2,911.2 100.3,907.3 98.4,903.3C96.6,899.3 94.8,895.3 93.1,891.3C91.3,887.3 89.7,883.3 88.0,879.2C86.3,875.2 84.7,871.1 83.0,867.0C81.4,863.0 79.7,858.9 78.0,854.8C76.2,850.7 74.4,846.7 72.7,842.6C71.0,838.5 69.2,834.4 67.6,830.3C65.9,826.1 64.3,821.9 62.9,817.7C61.5,813.5 60.2,809.3 59.0,805.0C57.8,800.7 56.7,796.4 55.7,792.1C54.7,787.8 53.7,783.5 52.9,779.1C52.0,774.8 51.2,770.4 50.4,766.1C49.6,761.7 48.9,757.3 48.2,752.9C47.5,748.5 46.9,744.1 46.3,739.7C45.7,735.3 45.1,730.9 44.6,726.5C44.1,722.1 43.6,717.7 43.2,713.3C42.8,708.8 42.4,704.4 42.1,700.0C41.8,695.5 41.6,691.1 41.3,686.7C41.1,682.2 40.9,677.8 40.8,673.3C40.6,668.9 40.5,664.4 40.4,660.0Z" fill="#b9ebfd"/>
<path d="M56.8,660.0C56.6,655.6 56.6,651.3 56.5,646.9C56.4,642.6 56.3,638.2 56.3,633.9C56.2,629.5 56.2,625.1 56.2,620.8C56.1,616.4 56.1,612.0 56.1,607.6C56.2,603.3 56.2,598.9 56.4,594.5C56.5,590.1 56.6,585.7 56.9,581.4C57.1,577.0 57.3,572.6 57.7,568.2C58.0,563.9 58.3,559.5 58.7,555.1C59.2,550.8 59.6,546.4 60.2,542.0C60.7,537.7 61.3,533.3 61.9,529.0C62.6,524.6 63.3,520.3 64.1,516.0C64.8,511.6 65.6,507.3 66.5,503.0C67.3,498.7 68.3,494.4 69.2,490.1C70.2,485.8 71.2,481.6 72.2,477.3C73.2,473.0 74.3,468.7 75.3,464.5C76.4,460.2 77.4,455.9 78.5,451.7C79.6,447.4 80.6,443.1 81.7,438.9C82.8,434.6 83.8,430.3 84.9,426.0C86.0,421.7 87.0,417.5 88.2,413.2C89.3,408.9 90.3,404.6 91.5,400.3C92.7,396.0 93.9,391.8 95.2,387.5C96.6,383.3 98.0,379.1 99.6,375.0C101.1,370.9 102.9,366.8 104.7,362.7C106.5,358.7 108.5,354.8 110.5,350.8C112.4,346.8 114.4,342.9 116.4,338.9C118.3,334.9 120.2,330.9 122.2,327.0C124.2,323.0 126.2,319.1 128.4,315.3C130.6,311.4 133.0,307.7 135.4,304.0C137.9,300.3 140.5,296.7 143.1,293.1C145.7,289.5 148.3,285.9 151.0,282.4C153.7,278.9 156.4,275.4 159.1,271.9C161.8,268.4 164.6,265.0 167.4,261.6C170.2,258.2 173.0,254.8 175.9,251.4C178.7,248.1 181.6,244.8 184.6,241.5C187.5,238.2 190.5,235.0 193.4,231.8C196.4,228.6 199.5,225.4 202.5,222.3C205.6,219.2 208.7,216.1 211.9,213.1C215.1,210.0 218.3,207.1 221.5,204.1C224.8,201.2 228.1,198.3 231.4,195.5C234.7,192.6 238.0,189.8 241.4,187.1C244.8,184.4 248.2,181.7 251.7,179.0C255.2,176.4 258.7,173.8 262.2,171.3C265.7,168.7 269.3,166.3 272.9,163.8C276.5,161.4 280.1,159.0 283.8,156.7C287.4,154.3 291.1,152.0 294.7,149.7C298.4,147.5 302.1,145.2 305.7,143.0C309.4,140.8 313.1,138.6 316.8,136.4C320.4,134.3 324.1,132.1 327.7,129.9C331.4,127.8 334.9,125.6 338.6,123.4C342.2,121.3 345.8,119.2 349.5,117.2C353.3,115.2 357.0,113.3 360.9,111.6C364.8,109.8 368.7,108.2 372.8,106.8C376.9,105.4 381.0,104.1 385.3,103.0C389.5,101.9 393.9,101.0 398.4,100.3C402.8,99.6 407.4,99.2 412.1,98.9C416.7,98.6 421.5,98.5 426.3,98.6C431.1,98.7 436.0,99.0 440.8,99.2C445.7,99.5 450.5,100.0 455.3,100.3C460.0,100.7 464.8,101.1 469.4,101.5C474.0,101.8 478.6,102.1 483.0,102.3C487.5,102.5 491.8,102.7 496.1,102.7C500.4,102.8 504.5,102.8 508.7,102.7C512.8,102.5 516.8,102.3 520.7,102.1C524.7,101.9 528.6,101.5 532.4,101.2C536.3,100.8 540.1,100.4 543.8,99.9C547.6,99.5 551.3,99.0 555.0,98.5C558.7,98.0 562.3,97.4 566.0,96.9C569.6,96.3 573.2,95.8 576.8,95.2C580.4,94.6 584.0,94.1 587.5,93.5C591.1,92.9 594.6,92.2 598.1,91.7C601.7,91.1 605.2,90.6 608.7,90.0C612.2,89.4 615.7,88.8 619.2,88.2C622.7,87.6 626.1,86.9 629.6,86.2C633.0,85.5 636.4,84.7 639.8,83.9C643.2,83.0 646.6,82.1 649.9,81.2C653.3,80.3 656.6,79.3 660.0,78.4C663.3,77.4 666.7,76.4 670.0,75.5C673.4,74.5 676.8,73.5 680.1,72.6C683.5,71.6 686.9,70.7 690.3,69.8C693.7,68.8 697.0,67.9 700.4,67.0C703.8,66.1 707.2,65.2 710.7,64.4C714.1,63.5 717.5,62.7 720.9,61.9C724.4,61.1 727.8,60.3 731.3,59.6C734.7,58.9 738.2,58.3 741.7,57.7C745.2,57.0 748.7,56.5 752.2,56.0C755.7,55.5 759.2,55.0 762.7,54.6C766.2,54.2 769.7,53.9 773.2,53.6C776.7,53.3 780.3,53.0 783.8,52.8C787.3,52.6 790.9,52.5 794.4,52.4C797.9,52.2 801.5,52.2 805.0,52.1C808.5,52.0 812.1,52.0 815.6,52.0C819.2,52.0 822.7,52.1 826.2,52.2C829.8,52.3 833.3,52.5 836.8,52.7C840.4,53.0 843.9,53.3 847.4,53.7C850.9,54.1 854.4,54.5 857.9,55.0C861.4,55.5 864.9,56.0 868.4,56.6C871.9,57.2 875.4,57.8 878.9,58.4C882.3,59.0 885.8,59.7 889.3,60.4C892.7,61.0 896.2,61.7 899.7,62.4C903.1,63.0 906.6,63.7 910.0,64.3C913.5,65.0 917.0,65.6 920.4,66.2C923.9,66.7 927.4,67.3 930.9,67.8C934.4,68.3 937.9,68.8 941.4,69.3C944.9,69.8 948.4,70.3 951.9,70.9C955.4,71.4 958.9,72.0 962.4,72.6C965.9,73.2 969.4,73.8 972.9,74.5C976.4,75.2 979.9,75.9 983.3,76.7C986.8,77.4 990.3,78.2 993.8,79.1C997.2,79.9 1000.7,80.8 1004.1,81.7C1007.6,82.6 1011.0,83.6 1014.4,84.6C1017.9,85.6 1021.3,86.6 1024.7,87.7C1028.1,88.8 1031.5,89.9 1034.9,91.0C1038.3,92.1 1041.7,93.3 1045.0,94.5C1048.4,95.8 1051.7,97.0 1055.1,98.4C1058.4,99.7 1061.7,101.1 1065.0,102.5C1068.2,104.0 1071.5,105.5 1074.7,107.1C1077.9,108.7 1081.0,110.4 1084.2,112.1C1087.3,113.8 1090.4,115.6 1093.5,117.5C1096.5,119.3 1099.6,121.2 1102.6,123.1C1105.6,125.0 1108.6,126.9 1111.6,128.9C1114.6,130.8 1117.6,132.8 1120.6,134.7C1123.6,136.6 1126.6,138.6 1129.6,140.5C1132.6,142.4 1135.6,144.3 1138.7,146.2C1141.7,148.1 1144.7,150.0 1147.7,151.9C1150.7,153.8 1153.8,155.7 1156.8,157.5C1159.9,159.4 1163.0,161.2 1166.1,163.1C1169.2,164.9 1172.3,166.6 1175.4,168.4C1178.6,170.2 1181.8,171.9 1185.0,173.7C1188.2,175.4 1191.4,177.2 1194.6,178.9C1197.8,180.7 1201.0,182.4 1204.3,184.2C1207.5,185.9 1210.7,187.7 1214.0,189.5C1217.3,191.3 1220.6,193.0 1223.9,194.8C1227.2,196.5 1230.6,198.3 1234.0,200.0C1237.4,201.7 1240.8,203.4 1244.3,205.1C1247.7,206.8 1251.2,208.6 1254.7,210.3C1258.2,212.0 1261.7,213.8 1265.2,215.6C1268.8,217.3 1272.3,219.1 1275.8,220.9C1279.4,222.7 1283.0,224.6 1286.6,226.4C1290.2,228.2 1293.8,230.0 1297.5,231.9C1301.1,233.8 1304.8,235.6 1308.5,237.5C1312.2,239.4 1315.9,241.3 1319.6,243.3C1323.3,245.2 1327.0,247.2 1330.8,249.2C1334.5,251.2 1338.3,253.2 1342.1,255.3C1345.8,257.4 1349.6,259.5 1353.3,261.7C1357.0,263.8 1360.6,266.1 1364.3,268.4C1367.9,270.7 1371.5,273.1 1375.1,275.5C1378.6,277.9 1382.2,280.4 1385.7,282.9C1389.1,285.5 1392.6,288.1 1395.9,290.8C1399.2,293.5 1402.5,296.3 1405.6,299.1C1408.7,302.0 1411.8,305.0 1414.7,308.0C1417.6,311.0 1420.5,314.2 1423.2,317.3C1425.9,320.5 1428.5,323.8 1431.0,327.1C1433.6,330.4 1436.0,333.8 1438.5,337.2C1441.0,340.6 1443.4,344.0 1445.9,347.4C1448.3,350.8 1450.8,354.3 1453.3,357.7C1455.8,361.1 1458.3,364.5 1460.9,368.0C1463.4,371.4 1466.0,374.9 1468.5,378.3C1471.1,381.8 1473.7,385.3 1476.3,388.8C1478.9,392.3 1481.5,395.8 1484.1,399.3C1486.7,402.8 1489.3,406.4 1491.9,410.0C1494.4,413.6 1496.9,417.2 1499.3,420.9C1501.7,424.6 1504.0,428.4 1506.1,432.2C1508.3,436.0 1510.3,439.9 1512.1,443.8C1514.0,447.7 1515.7,451.7 1517.3,455.7C1518.9,459.8 1520.4,463.9 1521.7,468.0C1523.1,472.1 1524.3,476.2 1525.5,480.4C1526.7,484.5 1527.7,488.7 1528.7,492.9C1529.7,497.1 1530.5,501.4 1531.3,505.6C1532.0,509.9 1532.6,514.2 1533.2,518.5C1533.7,522.8 1534.1,527.1 1534.5,531.4C1534.8,535.7 1535.1,540.0 1535.4,544.3C1535.6,548.6 1535.8,553.0 1536.0,557.3C1536.2,561.6 1536.3,565.9 1536.4,570.2C1536.6,574.5 1536.7,578.8 1536.8,583.1C1536.9,587.4 1537.0,591.7 1537.1,596.0C1537.2,600.2 1537.3,604.5 1537.4,608.8C1537.5,613.1 1537.6,617.3 1537.7,621.6C1537.8,625.9 1537.9,630.1 1538.0,634.4C1538.1,638.7 1538.2,642.9 1538.3,647.2C1538.4,651.5 1538.5,655.7 1538.5,660.0C1538.6,664.3 1538.7,668.5 1538.8,672.8C1538.8,677.1 1538.9,681.4 1538.9,685.6C1538.9,689.9 1539.0,694.2 1539.0,698.5C1539.0,702.7 1538.9,707.0 1538.9,711.3C1538.9,715.6 1538.9,719.9 1538.8,724.2C1538.7,728.5 1538.6,732.8 1538.5,737.1C1538.4,741.4 1538.3,745.7 1538.1,750.0C1538.0,754.3 1537.8,758.6 1537.6,763.0C1537.4,767.3 1537.2,771.6 1537.0,775.9C1536.8,780.3 1536.5,784.6 1536.3,788.9C1536.0,793.3 1535.7,797.6 1535.3,802.0C1535.0,806.3 1534.6,810.7 1534.1,815.0C1533.7,819.3 1533.2,823.7 1532.6,828.0C1532.0,832.3 1531.3,836.6 1530.6,840.9C1529.9,845.2 1529.1,849.5 1528.3,853.8C1527.6,858.1 1526.7,862.4 1525.9,866.7C1525.0,871.0 1524.1,875.3 1523.1,879.5C1522.1,883.8 1521.1,888.1 1520.0,892.3C1518.9,896.6 1517.7,900.8 1516.5,905.0C1515.3,909.2 1514.1,913.4 1512.7,917.6C1511.4,921.8 1509.9,925.9 1508.4,930.0C1506.9,934.1 1505.3,938.2 1503.7,942.3C1502.0,946.3 1500.3,950.4 1498.6,954.4C1496.8,958.4 1495.0,962.4 1493.2,966.4C1491.3,970.4 1489.4,974.3 1487.5,978.2C1485.5,982.2 1483.5,986.1 1481.4,989.9C1479.3,993.8 1477.1,997.6 1474.9,1001.3C1472.6,1005.1 1470.3,1008.8 1467.9,1012.5C1465.5,1016.2 1463.1,1019.8 1460.6,1023.4C1458.2,1027.0 1455.7,1030.6 1453.1,1034.2C1450.6,1037.7 1448.0,1041.3 1445.3,1044.8C1442.7,1048.3 1440.1,1051.7 1437.5,1055.2C1434.8,1058.7 1432.2,1062.1 1429.6,1065.6C1427.0,1069.1 1424.4,1072.5 1421.8,1076.0C1419.2,1079.5 1416.6,1083.0 1414.0,1086.4C1411.4,1089.9 1408.8,1093.4 1406.2,1096.8C1403.6,1100.2 1400.9,1103.6 1398.2,1107.0C1395.5,1110.4 1392.8,1113.7 1390.0,1117.1C1387.3,1120.4 1384.5,1123.7 1381.7,1127.0C1378.9,1130.3 1376.1,1133.6 1373.3,1136.8C1370.4,1140.1 1367.5,1143.3 1364.6,1146.4C1361.6,1149.6 1358.6,1152.7 1355.5,1155.7C1352.5,1158.8 1349.4,1161.8 1346.2,1164.7C1343.1,1167.7 1339.9,1170.6 1336.7,1173.4C1333.4,1176.3 1330.1,1179.0 1326.8,1181.8C1323.5,1184.6 1320.2,1187.4 1316.9,1190.1C1313.5,1192.7 1310.0,1195.3 1306.5,1197.8C1303.0,1200.3 1299.4,1202.8 1295.8,1205.1C1292.2,1207.4 1288.5,1209.7 1284.7,1211.9C1281.0,1214.0 1277.2,1216.1 1273.3,1218.1C1269.4,1220.1 1265.5,1222.0 1261.6,1223.8C1257.6,1225.6 1253.6,1227.3 1249.5,1228.9C1245.4,1230.5 1241.3,1232.1 1237.1,1233.4C1232.9,1234.8 1228.7,1236.1 1224.4,1237.2C1220.0,1238.3 1215.6,1239.3 1211.2,1240.1C1206.7,1240.9 1202.2,1241.5 1197.6,1242.1C1193.1,1242.6 1188.5,1243.1 1183.9,1243.4C1179.3,1243.8 1174.7,1244.1 1170.2,1244.4C1165.6,1244.6 1161.0,1244.8 1156.5,1244.9C1151.9,1245.0 1147.3,1245.0 1142.7,1245.0C1138.2,1244.9 1133.6,1244.8 1129.1,1244.6C1124.5,1244.4 1120.0,1244.2 1115.5,1243.9C1111.0,1243.6 1106.5,1243.3 1102.0,1243.0C1097.6,1242.6 1093.1,1242.2 1088.7,1241.7C1084.3,1241.3 1079.9,1240.7 1075.5,1240.2C1071.2,1239.6 1066.8,1239.0 1062.5,1238.3C1058.2,1237.7 1053.9,1237.0 1049.6,1236.2C1045.3,1235.5 1041.1,1234.7 1036.8,1233.8C1032.6,1232.9 1028.4,1232.0 1024.2,1231.0C1020.0,1230.1 1015.9,1229.0 1011.7,1227.9C1007.6,1226.8 1003.4,1225.7 999.3,1224.4C995.2,1223.2 991.2,1221.9 987.1,1220.5C983.1,1219.1 979.0,1217.7 975.0,1216.2C971.0,1214.7 967.1,1213.1 963.1,1211.5C959.2,1209.9 955.3,1208.2 951.4,1206.5C947.6,1204.8 943.7,1203.1 940.0,1201.3C936.2,1199.5 932.4,1197.7 928.7,1195.9C925.0,1194.1 921.4,1192.3 917.8,1190.5C914.2,1188.8 910.6,1187.1 907.2,1185.5C903.7,1184.0 900.3,1182.5 896.9,1181.1C893.5,1179.7 890.2,1178.5 886.9,1177.3C883.7,1176.1 880.4,1175.0 877.2,1174.0C874.0,1173.0 870.9,1172.0 867.8,1171.1C864.6,1170.2 861.5,1169.4 858.5,1168.5C855.4,1167.7 852.3,1167.0 849.3,1166.2C846.2,1165.4 843.2,1164.6 840.2,1163.9C837.2,1163.1 834.2,1162.3 831.3,1161.5C828.3,1160.7 825.4,1159.9 822.4,1159.2C819.5,1158.4 816.6,1157.7 813.7,1157.1C810.8,1156.4 807.9,1155.8 805.0,1155.2C802.1,1154.6 799.2,1154.0 796.4,1153.3C793.5,1152.7 790.7,1152.1 787.8,1151.4C785.0,1150.8 782.2,1150.2 779.3,1149.7C776.5,1149.1 773.7,1148.7 770.9,1148.2C768.0,1147.7 765.2,1147.3 762.4,1146.8C759.6,1146.4 756.8,1145.9 754.0,1145.5C751.2,1145.0 748.4,1144.5 745.6,1144.1C742.8,1143.6 740.0,1143.2 737.1,1142.8C734.3,1142.5 731.5,1142.2 728.7,1141.9C725.8,1141.6 723.0,1141.3 720.2,1141.0C717.3,1140.7 714.5,1140.4 711.7,1140.0C708.9,1139.7 706.0,1139.4 703.2,1139.1C700.3,1138.9 697.4,1138.6 694.5,1138.4C691.7,1138.2 688.7,1138.1 685.8,1138.0C682.9,1137.9 680.0,1137.8 677.0,1137.7C674.1,1137.6 671.1,1137.4 668.1,1137.3C665.2,1137.2 662.2,1137.0 659.2,1136.9C656.2,1136.8 653.2,1136.7 650.1,1136.6C647.1,1136.5 644.1,1136.4 641.0,1136.3C637.9,1136.2 634.9,1136.0 631.8,1135.9C628.7,1135.8 625.6,1135.6 622.5,1135.5C619.3,1135.4 616.2,1135.3 613.0,1135.2C609.8,1135.1 606.6,1135.1 603.4,1135.0C600.1,1135.0 596.9,1134.9 593.6,1134.8C590.3,1134.8 587.0,1134.7 583.7,1134.6C580.4,1134.5 577.0,1134.4 573.6,1134.3C570.3,1134.3 566.9,1134.2 563.4,1134.1C560.0,1134.0 556.6,1133.9 553.1,1133.8C549.6,1133.7 546.1,1133.6 542.5,1133.5C539.0,1133.4 535.4,1133.3 531.8,1133.3C528.1,1133.2 524.5,1133.1 520.8,1133.0C517.1,1132.9 513.4,1132.8 509.6,1132.8C505.8,1132.7 502.0,1132.6 498.2,1132.5C494.3,1132.4 490.5,1132.2 486.6,1132.1C482.7,1131.9 478.8,1131.7 474.8,1131.5C470.9,1131.3 466.9,1131.1 463.0,1130.8C459.0,1130.5 455.0,1130.1 451.0,1129.7C447.1,1129.3 443.1,1128.9 439.1,1128.4C435.1,1127.8 431.1,1127.3 427.1,1126.7C423.1,1126.0 419.1,1125.4 415.1,1124.6C411.1,1123.9 407.1,1123.1 403.2,1122.2C399.2,1121.4 395.3,1120.4 391.3,1119.4C387.4,1118.4 383.5,1117.3 379.7,1116.1C375.8,1114.9 372.0,1113.6 368.3,1112.2C364.5,1110.9 360.8,1109.4 357.1,1107.9C353.4,1106.3 349.8,1104.8 346.1,1103.1C342.5,1101.5 338.8,1099.8 335.2,1098.1C331.5,1096.4 327.9,1094.6 324.2,1092.9C320.6,1091.1 316.9,1089.3 313.2,1087.5C309.6,1085.6 305.9,1083.8 302.2,1081.9C298.5,1080.0 294.8,1078.1 291.2,1076.1C287.6,1074.1 283.9,1072.0 280.3,1069.9C276.7,1067.8 273.2,1065.7 269.6,1063.4C266.1,1061.2 262.6,1058.9 259.1,1056.6C255.6,1054.3 252.2,1051.9 248.7,1049.5C245.3,1047.1 241.9,1044.6 238.5,1042.1C235.2,1039.6 231.8,1037.0 228.5,1034.4C225.2,1031.7 222.0,1029.0 218.8,1026.3C215.6,1023.6 212.4,1020.8 209.2,1018.0C206.0,1015.2 202.9,1012.3 199.8,1009.4C196.7,1006.5 193.7,1003.5 190.7,1000.5C187.7,997.5 184.8,994.4 181.9,991.3C179.0,988.2 176.2,985.0 173.4,981.8C170.6,978.6 167.9,975.3 165.3,972.0C162.6,968.7 160.0,965.4 157.4,962.0C154.9,958.6 152.3,955.1 149.9,951.7C147.4,948.2 145.0,944.7 142.7,941.1C140.3,937.6 138.0,934.0 135.8,930.4C133.6,926.7 131.4,923.1 129.3,919.4C127.2,915.7 125.2,911.9 123.2,908.1C121.2,904.4 119.3,900.6 117.5,896.7C115.6,892.9 113.8,889.0 112.0,885.2C110.3,881.3 108.6,877.4 106.9,873.4C105.2,869.5 103.6,865.6 101.9,861.6C100.2,857.7 98.5,853.7 96.8,849.8C95.1,845.8 93.3,841.9 91.6,837.9C89.9,833.9 88.1,829.9 86.5,825.9C84.9,821.9 83.3,817.8 81.9,813.7C80.4,809.6 79.1,805.5 77.9,801.3C76.6,797.2 75.5,793.0 74.4,788.8C73.3,784.6 72.3,780.4 71.3,776.2C70.4,772.0 69.5,767.7 68.6,763.5C67.8,759.2 67.0,755.0 66.2,750.7C65.4,746.4 64.7,742.2 64.1,737.9C63.4,733.6 62.8,729.3 62.2,725.0C61.6,720.7 61.0,716.4 60.5,712.1C60.0,707.7 59.5,703.4 59.1,699.1C58.7,694.8 58.4,690.4 58.1,686.1C57.8,681.7 57.6,677.4 57.3,673.1C57.1,668.7 56.9,664.4 56.8,660.0Z" fill="#ffffd9"/>
<path d="M67.5,660.0C67.3,655.7 67.2,651.4 67.1,647.1C67.0,642.8 66.9,638.5 66.8,634.2C66.7,629.9 66.7,625.6 66.7,621.3C66.6,617.0 66.6,612.7 66.6,608.4C66.7,604.1 66.7,599.7 66.8,595.4C66.9,591.1 67.1,586.8 67.3,582.5C67.5,578.1 67.7,573.8 68.0,569.5C68.3,565.2 68.6,560.9 69.0,556.6C69.4,552.3 69.8,547.9 70.4,543.6C70.9,539.3 71.5,535.1 72.1,530.8C72.8,526.5 73.5,522.2 74.3,518.0C75.0,513.7 75.9,509.4 76.7,505.2C77.6,501.0 78.5,496.7 79.5,492.5C80.4,488.3 81.4,484.1 82.4,479.8C83.5,475.6 84.5,471.4 85.5,467.2C86.6,463.0 87.6,458.8 88.7,454.6C89.7,450.4 90.8,446.2 91.9,442.0C92.9,437.8 94.0,433.5 95.0,429.3C96.1,425.1 97.1,420.9 98.2,416.6C99.3,412.4 100.4,408.2 101.6,404.0C102.7,399.8 103.9,395.5 105.3,391.4C106.6,387.2 108.0,383.1 109.6,379.0C111.2,375.0 112.9,371.0 114.7,367.0C116.6,363.0 118.6,359.1 120.5,355.2C122.4,351.3 124.4,347.4 126.3,343.5C128.3,339.6 130.2,335.7 132.2,331.8C134.2,328.0 136.2,324.1 138.4,320.3C140.6,316.6 142.9,312.9 145.3,309.3C147.8,305.6 150.3,302.1 152.9,298.6C155.5,295.0 158.2,291.6 160.9,288.1C163.5,284.7 166.2,281.2 169.0,277.8C171.7,274.5 174.5,271.1 177.3,267.8C180.2,264.5 183.0,261.2 185.9,258.0C188.8,254.7 191.7,251.5 194.7,248.3C197.7,245.2 200.6,242.0 203.7,238.9C206.7,235.8 209.7,232.8 212.8,229.8C215.9,226.7 219.0,223.8 222.2,220.8C225.4,217.9 228.6,215.0 231.8,212.2C235.0,209.3 238.3,206.5 241.6,203.8C244.9,201.0 248.2,198.3 251.6,195.6C254.9,192.9 258.3,190.3 261.7,187.7C265.1,185.1 268.5,182.6 272.0,180.1C275.4,177.6 278.9,175.1 282.4,172.7C285.9,170.3 289.5,167.9 293.0,165.6C296.6,163.2 300.1,161.0 303.7,158.7C307.3,156.5 311.0,154.3 314.6,152.2C318.2,150.0 321.9,148.0 325.5,145.8C329.2,143.7 332.8,141.6 336.4,139.5C340.0,137.4 343.5,135.3 347.1,133.2C350.7,131.2 354.3,129.1 358.0,127.2C361.7,125.4 365.5,123.6 369.4,122.0C373.3,120.5 377.3,119.1 381.4,117.9C385.6,116.7 389.8,115.6 394.2,114.8C398.5,114.0 403.0,113.4 407.5,113.0C412.1,112.5 416.8,112.4 421.5,112.4C426.3,112.3 431.2,112.6 436.0,112.9C440.8,113.2 445.7,113.6 450.4,114.0C455.2,114.4 460.0,114.9 464.6,115.2C469.2,115.6 473.8,115.9 478.2,116.2C482.7,116.4 487.1,116.7 491.4,116.8C495.7,116.9 499.9,117.0 504.0,117.0C508.1,116.9 512.1,116.8 516.1,116.7C520.1,116.5 523.9,116.2 527.8,115.9C531.6,115.6 535.4,115.2 539.1,114.8C542.8,114.4 546.5,114.0 550.2,113.5C553.8,113.1 557.4,112.6 561.0,112.0C564.6,111.5 568.2,111.0 571.7,110.5C575.3,110.0 578.8,109.4 582.3,108.9C585.9,108.4 589.4,107.8 592.8,107.3C596.3,106.7 599.8,106.2 603.2,105.6C606.7,105.0 610.1,104.5 613.5,103.9C616.9,103.3 620.3,102.7 623.7,102.1C627.1,101.5 630.5,100.9 633.8,100.1C637.2,99.4 640.5,98.7 643.8,97.8C647.1,97.0 650.4,96.1 653.6,95.2C656.9,94.2 660.2,93.2 663.4,92.3C666.7,91.3 670.0,90.3 673.3,89.4C676.5,88.4 679.8,87.5 683.1,86.5C686.4,85.6 689.7,84.6 693.0,83.7C696.3,82.8 699.6,81.9 702.9,81.0C706.2,80.1 709.5,79.2 712.9,78.3C716.2,77.4 719.5,76.6 722.9,75.8C726.2,75.0 729.6,74.2 733.0,73.5C736.4,72.7 739.7,72.0 743.1,71.4C746.5,70.8 749.9,70.2 753.4,69.7C756.8,69.2 760.2,68.7 763.6,68.3C767.1,67.9 770.5,67.5 773.9,67.2C777.4,66.9 780.8,66.6 784.3,66.4C787.7,66.2 791.2,66.0 794.6,65.9C798.1,65.7 801.5,65.6 805.0,65.5C808.5,65.4 811.9,65.4 815.4,65.4C818.8,65.4 822.3,65.4 825.8,65.6C829.2,65.7 832.7,65.9 836.1,66.1C839.6,66.4 843.0,66.7 846.5,67.1C849.9,67.5 853.3,67.9 856.8,68.4C860.2,68.9 863.6,69.4 867.0,70.0C870.4,70.5 873.8,71.1 877.2,71.7C880.6,72.2 884.0,72.8 887.4,73.5C890.8,74.1 894.2,74.7 897.6,75.3C901.0,75.9 904.4,76.5 907.8,77.1C911.2,77.7 914.6,78.2 918.0,78.8C921.4,79.3 924.8,79.8 928.2,80.3C931.7,80.7 935.1,81.2 938.5,81.7C941.9,82.2 945.4,82.6 948.8,83.2C952.3,83.7 955.7,84.2 959.1,84.8C962.6,85.4 966.0,86.0 969.4,86.6C972.8,87.3 976.2,88.0 979.7,88.7C983.1,89.5 986.4,90.3 989.8,91.1C993.2,92.0 996.6,92.9 1000.0,93.8C1003.3,94.7 1006.7,95.7 1010.0,96.7C1013.4,97.7 1016.7,98.7 1020.1,99.7C1023.4,100.7 1026.7,101.8 1030.1,102.9C1033.4,104.0 1036.7,105.1 1040.0,106.3C1043.3,107.5 1046.6,108.7 1049.9,109.9C1053.2,111.2 1056.4,112.5 1059.6,113.9C1062.8,115.3 1066.0,116.8 1069.2,118.4C1072.3,119.9 1075.4,121.6 1078.5,123.2C1081.6,124.9 1084.6,126.7 1087.7,128.4C1090.7,130.2 1093.7,132.0 1096.7,133.7C1099.7,135.5 1102.7,137.4 1105.7,139.2C1108.7,141.0 1111.7,142.8 1114.7,144.6C1117.7,146.4 1120.7,148.2 1123.7,150.0C1126.7,151.8 1129.7,153.6 1132.7,155.4C1135.7,157.2 1138.7,159.0 1141.7,160.8C1144.8,162.6 1147.8,164.4 1150.8,166.1C1153.8,167.9 1156.9,169.7 1159.9,171.5C1163.0,173.2 1166.1,175.0 1169.2,176.7C1172.3,178.4 1175.4,180.2 1178.5,181.9C1181.7,183.6 1184.8,185.3 1188.0,187.1C1191.1,188.8 1194.3,190.5 1197.5,192.3C1200.6,194.0 1203.8,195.8 1207.0,197.6C1210.2,199.3 1213.4,201.1 1216.7,202.8C1220.0,204.5 1223.3,206.1 1226.7,207.8C1230.1,209.4 1233.5,211.0 1237.0,212.7C1240.4,214.3 1243.9,216.0 1247.4,217.6C1250.8,219.3 1254.3,221.0 1257.8,222.7C1261.3,224.5 1264.8,226.2 1268.3,228.0C1271.8,229.8 1275.3,231.5 1278.9,233.3C1282.5,235.1 1286.1,236.9 1289.7,238.7C1293.3,240.5 1296.9,242.3 1300.6,244.1C1304.3,246.0 1307.9,247.9 1311.6,249.8C1315.3,251.6 1319.0,253.5 1322.8,255.5C1326.5,257.4 1330.3,259.4 1334.0,261.4C1337.7,263.4 1341.5,265.4 1345.2,267.6C1348.8,269.7 1352.5,271.8 1356.1,274.1C1359.8,276.3 1363.4,278.6 1366.9,281.0C1370.5,283.3 1374.0,285.7 1377.5,288.2C1381.0,290.7 1384.4,293.2 1387.7,295.9C1391.1,298.5 1394.3,301.2 1397.4,304.0C1400.6,306.8 1403.6,309.7 1406.5,312.7C1409.4,315.7 1412.2,318.8 1414.9,321.9C1417.5,325.1 1420.1,328.4 1422.6,331.6C1425.1,334.9 1427.4,338.3 1429.9,341.6C1432.3,345.0 1434.6,348.4 1437.0,351.7C1439.5,355.1 1441.9,358.5 1444.3,361.9C1446.8,365.3 1449.2,368.7 1451.7,372.1C1454.2,375.4 1456.8,378.8 1459.3,382.3C1461.9,385.7 1464.5,389.1 1467.1,392.5C1469.6,395.9 1472.3,399.4 1474.9,402.9C1477.5,406.3 1480.1,409.8 1482.6,413.4C1485.1,416.9 1487.7,420.5 1490.0,424.1C1492.4,427.8 1494.7,431.4 1496.9,435.2C1499.0,438.9 1501.1,442.8 1502.9,446.6C1504.8,450.5 1506.5,454.4 1508.1,458.4C1509.7,462.4 1511.2,466.4 1512.5,470.4C1513.9,474.5 1515.1,478.6 1516.2,482.7C1517.4,486.8 1518.4,490.9 1519.4,495.1C1520.3,499.2 1521.1,503.4 1521.8,507.6C1522.5,511.8 1523.1,516.1 1523.5,520.3C1524.0,524.6 1524.4,528.8 1524.7,533.1C1525.0,537.4 1525.2,541.6 1525.4,545.9C1525.6,550.2 1525.7,554.4 1525.9,558.7C1526.0,562.9 1526.1,567.2 1526.2,571.4C1526.3,575.7 1526.4,579.9 1526.5,584.2C1526.6,588.4 1526.8,592.6 1526.9,596.8C1527.0,601.1 1527.1,605.3 1527.2,609.5C1527.3,613.7 1527.4,617.9 1527.5,622.1C1527.6,626.3 1527.7,630.6 1527.8,634.8C1527.9,639.0 1528.0,643.2 1528.1,647.4C1528.2,651.6 1528.3,655.8 1528.3,660.0C1528.4,664.2 1528.5,668.4 1528.5,672.6C1528.5,676.8 1528.6,681.1 1528.6,685.3C1528.6,689.5 1528.6,693.7 1528.6,697.9C1528.5,702.1 1528.5,706.4 1528.5,710.6C1528.4,714.8 1528.4,719.0 1528.3,723.3C1528.3,727.5 1528.2,731.8 1528.1,736.0C1528.0,740.2 1527.9,744.5 1527.7,748.7C1527.6,753.0 1527.4,757.2 1527.3,761.5C1527.1,765.8 1526.9,770.0 1526.6,774.3C1526.4,778.6 1526.2,782.8 1525.9,787.1C1525.6,791.4 1525.3,795.7 1524.9,799.9C1524.5,804.2 1524.1,808.5 1523.6,812.7C1523.1,817.0 1522.6,821.3 1522.0,825.5C1521.3,829.8 1520.6,834.0 1519.9,838.3C1519.2,842.5 1518.5,846.7 1517.7,851.0C1517.0,855.2 1516.2,859.5 1515.4,863.7C1514.6,867.9 1513.7,872.2 1512.8,876.4C1511.9,880.6 1511.0,884.8 1509.9,889.0C1508.9,893.2 1507.8,897.4 1506.7,901.6C1505.6,905.8 1504.4,910.0 1503.1,914.1C1501.9,918.2 1500.5,922.4 1499.1,926.5C1497.7,930.5 1496.3,934.6 1494.7,938.7C1493.2,942.7 1491.6,946.7 1489.9,950.7C1488.2,954.7 1486.5,958.7 1484.8,962.7C1483.0,966.6 1481.2,970.6 1479.3,974.4C1477.4,978.3 1475.5,982.2 1473.4,986.0C1471.4,989.8 1469.2,993.6 1467.0,997.3C1464.7,1001.0 1462.4,1004.7 1460.1,1008.3C1457.7,1011.9 1455.2,1015.5 1452.8,1019.1C1450.3,1022.6 1447.8,1026.1 1445.2,1029.6C1442.6,1033.1 1440.0,1036.5 1437.4,1040.0C1434.7,1043.4 1432.1,1046.8 1429.4,1050.2C1426.8,1053.6 1424.1,1056.9 1421.5,1060.3C1418.9,1063.8 1416.3,1067.2 1413.8,1070.6C1411.2,1074.0 1408.7,1077.5 1406.2,1080.9C1403.6,1084.4 1401.1,1087.8 1398.5,1091.2C1395.9,1094.6 1393.3,1098.0 1390.7,1101.3C1388.0,1104.7 1385.4,1108.0 1382.7,1111.3C1380.0,1114.7 1377.3,1118.0 1374.6,1121.3C1371.9,1124.5 1369.1,1127.8 1366.4,1131.0C1363.6,1134.3 1360.7,1137.5 1357.8,1140.6C1355.0,1143.7 1352.0,1146.8 1349.0,1149.8C1346.0,1152.9 1343.0,1155.8 1339.9,1158.8C1336.8,1161.7 1333.6,1164.6 1330.5,1167.4C1327.3,1170.3 1324.1,1173.1 1320.8,1175.8C1317.5,1178.5 1314.2,1181.2 1310.8,1183.8C1307.4,1186.3 1303.9,1188.8 1300.4,1191.2C1296.8,1193.6 1293.2,1195.9 1289.6,1198.2C1285.9,1200.4 1282.2,1202.5 1278.4,1204.6C1274.6,1206.6 1270.8,1208.6 1266.9,1210.5C1263.0,1212.4 1259.1,1214.2 1255.1,1215.9C1251.1,1217.5 1247.1,1219.2 1243.0,1220.6C1238.9,1222.1 1234.8,1223.5 1230.6,1224.8C1226.4,1226.1 1222.2,1227.2 1217.8,1228.2C1213.5,1229.2 1209.1,1230.1 1204.7,1230.8C1200.2,1231.5 1195.6,1232.0 1191.1,1232.4C1186.6,1232.9 1181.9,1233.1 1177.4,1233.4C1172.8,1233.7 1168.2,1233.9 1163.7,1234.0C1159.1,1234.2 1154.6,1234.3 1150.1,1234.3C1145.5,1234.3 1141.0,1234.3 1136.5,1234.1C1132.0,1234.0 1127.4,1233.8 1123.0,1233.6C1118.5,1233.4 1114.0,1233.1 1109.5,1232.8C1105.1,1232.5 1100.7,1232.1 1096.3,1231.7C1091.9,1231.3 1087.5,1230.9 1083.2,1230.4C1078.8,1229.9 1074.5,1229.3 1070.2,1228.7C1065.9,1228.1 1061.6,1227.4 1057.3,1226.7C1053.1,1226.0 1048.8,1225.2 1044.6,1224.4C1040.4,1223.6 1036.2,1222.7 1032.0,1221.8C1027.8,1220.9 1023.6,1219.9 1019.5,1218.8C1015.4,1217.8 1011.3,1216.7 1007.2,1215.5C1003.1,1214.4 999.1,1213.1 995.0,1211.8C991.0,1210.5 987.0,1209.2 983.0,1207.7C979.0,1206.3 975.0,1204.8 971.1,1203.2C967.1,1201.7 963.3,1200.1 959.4,1198.4C955.5,1196.8 951.7,1195.1 947.9,1193.4C944.1,1191.7 940.4,1189.9 936.7,1188.1C933.0,1186.4 929.3,1184.5 925.7,1182.8C922.1,1181.0 918.5,1179.2 915.0,1177.5C911.5,1175.8 908.0,1174.2 904.6,1172.7C901.3,1171.1 897.9,1169.7 894.6,1168.4C891.4,1167.1 888.1,1165.9 884.9,1164.7C881.7,1163.5 878.6,1162.5 875.5,1161.5C872.4,1160.4 869.3,1159.5 866.2,1158.5C863.2,1157.6 860.1,1156.8 857.1,1155.9C854.1,1155.1 851.1,1154.3 848.2,1153.5C845.2,1152.7 842.3,1151.9 839.3,1151.1C836.4,1150.2 833.5,1149.4 830.6,1148.6C827.7,1147.8 824.8,1146.9 822.0,1146.2C819.1,1145.4 816.3,1144.7 813.4,1144.0C810.6,1143.4 807.8,1142.8 805.0,1142.1C802.2,1141.5 799.4,1140.9 796.6,1140.2C793.8,1139.6 791.1,1138.9 788.3,1138.3C785.5,1137.7 782.8,1137.0 780.0,1136.5C777.3,1135.9 774.5,1135.4 771.8,1134.9C769.0,1134.4 766.3,1134.0 763.6,1133.5C760.8,1133.1 758.1,1132.6 755.4,1132.1C752.7,1131.6 749.9,1131.1 747.2,1130.7C744.5,1130.2 741.8,1129.7 739.0,1129.3C736.3,1128.9 733.6,1128.6 730.8,1128.3C728.1,1128.0 725.3,1127.7 722.6,1127.4C719.8,1127.1 717.1,1126.8 714.3,1126.4C711.6,1126.1 708.8,1125.8 706.1,1125.5C703.3,1125.2 700.5,1124.9 697.7,1124.7C694.9,1124.6 692.1,1124.4 689.2,1124.3C686.4,1124.2 683.5,1124.2 680.7,1124.1C677.8,1124.0 674.9,1123.8 672.0,1123.7C669.1,1123.6 666.3,1123.5 663.3,1123.4C660.4,1123.2 657.5,1123.1 654.5,1123.1C651.6,1123.0 648.6,1122.9 645.6,1122.8C642.7,1122.7 639.7,1122.6 636.7,1122.5C633.7,1122.4 630.6,1122.2 627.6,1122.1C624.6,1122.0 621.5,1121.9 618.4,1121.8C615.3,1121.7 612.2,1121.7 609.1,1121.6C605.9,1121.6 602.7,1121.5 599.5,1121.5C596.3,1121.4 593.1,1121.3 589.9,1121.3C586.7,1121.2 583.4,1121.1 580.1,1121.0C576.9,1121.0 573.5,1120.9 570.2,1120.8C566.9,1120.7 563.5,1120.7 560.1,1120.6C556.7,1120.5 553.3,1120.5 549.8,1120.4C546.3,1120.3 542.8,1120.3 539.3,1120.2C535.7,1120.2 532.2,1120.1 528.6,1120.1C524.9,1120.0 521.3,1120.0 517.6,1120.0C513.9,1119.9 510.1,1119.9 506.4,1119.8C502.6,1119.8 498.8,1119.7 495.0,1119.6C491.2,1119.5 487.3,1119.4 483.4,1119.2C479.6,1119.1 475.7,1118.9 471.8,1118.7C467.8,1118.4 463.9,1118.2 460.0,1117.9C456.0,1117.5 452.1,1117.2 448.1,1116.8C444.2,1116.4 440.2,1115.9 436.2,1115.4C432.2,1114.9 428.3,1114.3 424.3,1113.7C420.3,1113.1 416.3,1112.4 412.4,1111.7C408.4,1110.9 404.5,1110.1 400.6,1109.2C396.7,1108.2 392.8,1107.2 389.0,1106.1C385.2,1105.0 381.4,1103.8 377.7,1102.5C374.0,1101.2 370.3,1099.8 366.7,1098.3C363.1,1096.8 359.5,1095.2 356.0,1093.6C352.4,1092.0 348.9,1090.3 345.4,1088.6C341.9,1086.9 338.4,1085.1 334.8,1083.3C331.3,1081.6 327.7,1079.8 324.1,1078.0C320.5,1076.2 316.9,1074.4 313.3,1072.6C309.7,1070.8 306.0,1068.9 302.4,1067.0C298.8,1065.1 295.2,1063.1 291.7,1061.1C288.1,1059.0 284.6,1057.0 281.0,1054.8C277.5,1052.7 274.1,1050.5 270.6,1048.3C267.1,1046.0 263.7,1043.7 260.3,1041.4C256.8,1039.1 253.4,1036.7 250.0,1034.3C246.7,1031.9 243.3,1029.4 240.0,1026.9C236.7,1024.4 233.4,1021.8 230.2,1019.2C226.9,1016.6 223.7,1013.9 220.5,1011.2C217.3,1008.5 214.2,1005.7 211.0,1002.9C207.9,1000.1 204.8,997.3 201.8,994.3C198.8,991.4 195.8,988.5 192.9,985.4C190.0,982.4 187.2,979.3 184.4,976.2C181.6,973.1 178.9,969.9 176.2,966.7C173.5,963.5 170.8,960.2 168.3,956.9C165.7,953.6 163.1,950.3 160.6,946.9C158.1,943.5 155.7,940.1 153.3,936.6C150.9,933.2 148.6,929.6 146.4,926.1C144.2,922.5 142.0,918.9 139.9,915.3C137.8,911.7 135.8,908.0 133.9,904.3C131.9,900.6 130.0,896.8 128.1,893.1C126.3,889.3 124.5,885.5 122.8,881.7C121.0,877.8 119.4,874.0 117.7,870.1C116.0,866.3 114.4,862.4 112.7,858.5C111.1,854.6 109.4,850.7 107.7,846.8C106.0,842.9 104.3,839.1 102.6,835.1C100.9,831.2 99.2,827.3 97.7,823.3C96.1,819.3 94.6,815.3 93.1,811.3C91.7,807.3 90.4,803.2 89.2,799.1C88.0,795.1 86.8,790.9 85.7,786.8C84.6,782.7 83.6,778.6 82.6,774.4C81.6,770.3 80.7,766.1 79.8,761.9C78.9,757.7 78.1,753.5 77.3,749.3C76.6,745.1 75.8,740.9 75.2,736.7C74.5,732.5 73.8,728.3 73.2,724.0C72.6,719.8 72.0,715.5 71.4,711.3C70.9,707.0 70.4,702.8 70.0,698.5C69.6,694.3 69.2,690.0 68.9,685.7C68.6,681.4 68.3,677.1 68.1,672.9C67.8,668.6 67.6,664.3 67.5,660.0Z" fill="#ff8fce"/>
<ellipse cx="863.4" cy="619.65" rx="554.7" ry="456.4" transform="rotate(49.73 863.4 619.65)" fill="#a6cdfd" stroke="#1c4a9c" stroke-width="2"/>
<clipPath id="slv"><polygon points="250,700 1120,1100 1120,1300 250,1300"/></clipPath><g clip-path="url(#slv)"><ellipse cx="863.4" cy="619.65" rx="554.7" ry="456.4" transform="rotate(49.73 863.4 619.65)" fill="#1a50ae" stroke="#1a50ae" stroke-width="2"/></g>
<g clip-path="url(#blueclip)"><path d="M873.0,212.7C875.4,213.6 882.8,216.2 887.6,218.0C892.5,219.9 897.4,221.8 902.3,223.7C907.2,225.7 912.0,227.7 916.9,229.8C921.7,231.9 926.6,234.0 931.4,236.2C936.2,238.4 941.1,240.6 945.9,242.9C950.7,245.2 955.4,247.5 960.2,249.9C965.0,252.3 969.7,254.8 974.5,257.3C979.2,259.8 983.9,262.4 988.6,265.0C993.3,267.6 998.0,270.3 1002.6,273.0C1007.3,275.7 1011.9,278.5 1016.5,281.3C1021.1,284.1 1025.7,287.0 1030.3,289.9C1034.8,292.8 1039.4,295.8 1043.9,298.8C1048.4,301.8 1052.9,304.9 1057.3,308.0C1061.8,311.1 1066.2,314.2 1070.6,317.4C1075.0,320.6 1079.4,323.9 1083.7,327.1C1088.0,330.4 1092.3,333.8 1096.6,337.1C1100.8,340.5 1105.1,343.9 1109.3,347.4C1113.5,350.8 1117.6,354.3 1121.8,357.9C1125.9,361.4 1130.0,365.0 1134.0,368.6C1138.1,372.2 1142.1,375.9 1146.1,379.6C1150.0,383.3 1154.0,387.0 1157.8,390.8C1161.7,394.5 1165.6,398.3 1169.4,402.2C1173.2,406.0 1178.8,411.8 1180.7,413.8" fill="none" stroke="#e8f2ff" stroke-width="42" stroke-linecap="round" filter="url(#b12)" opacity="0.8"/><path d="M961.0,256.0C962.2,256.6 965.9,258.4 968.3,259.7C970.7,261.0 973.1,262.3 975.5,263.6C978.0,264.8 980.4,266.2 982.8,267.5C985.2,268.8 987.6,270.1 990.0,271.5C992.3,272.8 994.7,274.2 997.1,275.6C999.5,276.9 1001.9,278.3 1004.2,279.7C1006.6,281.1 1009.0,282.5 1011.3,284.0C1013.7,285.4 1016.0,286.8 1018.4,288.3C1020.7,289.7 1023.1,291.2 1025.4,292.7C1027.7,294.2 1030.0,295.7 1032.4,297.2C1034.7,298.7 1037.0,300.2 1039.3,301.7C1041.6,303.3 1043.9,304.8 1046.2,306.4C1048.5,307.9 1050.8,309.5 1053.0,311.1C1055.3,312.6 1057.6,314.2 1059.8,315.8C1062.1,317.4 1064.3,319.1 1066.6,320.7C1068.8,322.3 1071.1,324.0 1073.3,325.6C1075.5,327.3 1077.7,328.9 1080.0,330.6C1082.2,332.3 1084.4,334.0 1086.6,335.7C1088.8,337.3 1091.0,339.1 1093.1,340.8C1095.3,342.5 1097.5,344.2 1099.6,346.0C1101.8,347.7 1104.0,349.5 1106.1,351.2C1108.2,353.0 1110.4,354.8 1112.5,356.6C1114.6,358.3 1117.8,361.1 1118.8,361.9" fill="none" stroke="#f6faff" stroke-width="24" stroke-linecap="round" filter="url(#b12)" opacity="0.95"/></g>
<ellipse cx="833.71" cy="671.61" rx="563.27" ry="400.41" transform="rotate(38.52 833.71 671.61)" fill="#ff5500" stroke="#2a4590" stroke-width="1.5"/>
<ellipse cx="834.73" cy="674.3" rx="521.16" ry="363.23" transform="rotate(37.43 834.73 674.3)" fill="#ffc208" stroke="#475a5a" stroke-width="1.4"/>
<ellipse cx="580.4" cy="317.5" rx="68.5" ry="38.5" fill="#ff0000"/>
<text transform="translate(541.69,330.30) scale(0.7842,0.9245)" font-family='"Liberation Serif", serif' font-weight="normal" font-size="40.0" fill="#250000" stroke="#250000" stroke-width="0.6" stroke-linejoin="round" >Heme</text>
<polygon points="541.6,357.5 492.6,434.5 489.0,432.2 487.1,448.2 500.8,439.7 497.2,437.4 546.2,360.3" fill="#000"/>
<polygon points="630.7,353.0 720.0,419.2 717.3,422.9 733.3,425.7 726.0,411.2 723.3,414.9 633.9,348.6" fill="#000"/>
<polygon points="532.9,529.4 720.1,517.5 720.4,521.7 733.4,513.4 719.5,506.8 719.7,511.0 532.5,522.8" fill="#000"/>
<g>
<ellipse cx="468.1" cy="463.3" rx="9.3" ry="11.3" fill="#9ecbf6" filter="url(#b05)"/>
<ellipse cx="466.2" cy="465.8" rx="7.4" ry="9.4" fill="#fff" filter="url(#b1)"/>
<ellipse cx="508.0" cy="498.4" rx="9.3" ry="11.3" fill="#9ecbf6" filter="url(#b05)"/>
<ellipse cx="506.9" cy="495.4" rx="7.4" ry="9.4" fill="#fff" filter="url(#b1)"/>
<ellipse cx="428.2" cy="491.2" rx="9.3" ry="11.3" fill="#9ecbf6" filter="url(#b05)"/>
<ellipse cx="429.8" cy="494.0" rx="7.4" ry="9.4" fill="#fff" filter="url(#b1)"/>
<ellipse cx="474.8" cy="530.5" rx="9.3" ry="11.3" fill="#9ecbf6" filter="url(#b05)"/>
<ellipse cx="477.8" cy="529.5" rx="7.4" ry="9.4" fill="#fff" filter="url(#b1)"/>
<ellipse cx="445.7" cy="534.7" rx="9.3" ry="11.3" fill="#9ecbf6" filter="url(#b05)"/>
<ellipse cx="443.3" cy="536.8" rx="7.4" ry="9.4" fill="#fff" filter="url(#b1)"/>
<ellipse cx="511.7" cy="554.1" rx="9.3" ry="11.3" fill="#9ecbf6" filter="url(#b05)"/>
<ellipse cx="509.3" cy="556.2" rx="7.4" ry="9.4" fill="#fff" filter="url(#b1)"/>
<ellipse cx="470.5" cy="569.2" rx="9.3" ry="11.3" fill="#9ecbf6" filter="url(#b05)"/>
<ellipse cx="469.3" cy="572.2" rx="7.4" ry="9.4" fill="#fff" filter="url(#b1)"/>
<ellipse cx="458.4" cy="476.0" rx="13.4" ry="16.8" fill="#000"/>
<ellipse cx="502.0" cy="481.2" rx="13.4" ry="16.8" fill="#000"/>
<ellipse cx="435.4" cy="503.9" rx="13.4" ry="16.8" fill="#000"/>
<ellipse cx="489.3" cy="525.7" rx="13.4" ry="16.8" fill="#000"/>
<ellipse cx="434.8" cy="544.4" rx="13.4" ry="16.8" fill="#000"/>
<ellipse cx="500.2" cy="563.8" rx="13.4" ry="16.8" fill="#000"/>
<ellipse cx="463.9" cy="586.2" rx="13.4" ry="16.8" fill="#000"/>
</g>
<text transform="translate(399.00,642.80) scale(0.6911,0.8683)" font-family='"Liberation Serif", serif' font-weight="bold" font-size="40.0" fill="#0d0600" stroke="#0d0600" stroke-width="1.5" stroke-linejoin="round" >Hemozoin</text>
<text transform="translate(590.98,504.90) scale(0.7834,1.0536)" font-family='"Liberation Sans", sans-serif' font-weight="bold" font-size="40.0" fill="#0d0a00" stroke="#0d0a00" stroke-width="0.8" stroke-linejoin="round" >Fe</text>
<text transform="translate(628.38,493.30) scale(0.6175,0.7359)" font-family='"Liberation Sans", sans-serif' font-weight="bold" font-size="40.0" fill="#0d0a00" stroke="#0d0a00" stroke-width="0.8" stroke-linejoin="round" >2+</text>
<ellipse cx="621.2" cy="532.8" rx="8.2" ry="9.2" fill="#b0d4fb" filter="url(#b1)"/><ellipse cx="621.2" cy="532.8" rx="5.6" ry="6.4" fill="#fff" filter="url(#b1)"/>
<ellipse cx="605.8" cy="549.3" rx="8.8" ry="9.9" fill="#b0d4fb" filter="url(#b1)"/><ellipse cx="605.8" cy="549.3" rx="6.2" ry="7.1" fill="#fff" filter="url(#b1)"/>
<ellipse cx="629.7" cy="556.3" rx="9.3" ry="10.4" fill="#b0d4fb" filter="url(#b1)"/><ellipse cx="629.7" cy="556.3" rx="6.7" ry="7.6" fill="#fff" filter="url(#b1)"/>
<ellipse cx="607.3" cy="576.1" rx="9.3" ry="10.4" fill="#b0d4fb" filter="url(#b1)"/><ellipse cx="607.3" cy="576.1" rx="6.7" ry="7.6" fill="#fff" filter="url(#b1)"/>
<g filter="url(#b05)"><path d="M737.7,430.5L768.2,424.6M768.2,424.6L786.9,441.3M786.9,441.3L786.9,474.8M786.9,474.8L764.3,492.5M764.3,492.5L744.6,488.5M738.1,482.8L729.8,459.0M729.8,459.0L737.7,430.5M752.7,449.9L767.5,455.7M786.9,441.3L809.5,428.5M809.5,428.5L831.2,443.3M831.2,443.3L832.1,475.7M832.1,475.7L807.6,491.5M807.6,491.5L786.9,474.8M807.6,491.5L807.6,521.0M807.6,521.0L787.9,538.7M787.9,538.7L766.8,529.0" fill="none" stroke="#3a2a00" stroke-width="1.7" stroke-linejoin="round" stroke-linecap="round"/>
<path d="M786.6,540L786.6,567M789.6,540L789.6,567" stroke="#3a2a00" stroke-width="1.3" fill="none"/>
<path d="M786.0,439.7L787.7,439.7M785.6,436.6L787.8,436.5M785.3,433.4L787.9,433.3M785.0,430.2L787.9,430.1M784.6,427.0L788.0,426.9M784.3,423.9L788.1,423.7M783.9,420.7L788.2,420.5" stroke="#3a2a00" stroke-width="1.1" fill="none"/>
<path d="M808.7,426.9L810.4,426.9M808.7,423.7L810.7,423.8M808.6,420.5L811.0,420.6M808.5,417.3L811.3,417.4M808.5,414.1L811.7,414.2M808.4,410.9L812.0,411.0M808.3,407.7L812.3,407.9M808.3,404.5L812.6,404.7" stroke="#3a2a00" stroke-width="1.1" fill="none"/>
<path d="M731.3,457.4L731.9,458.5M734.7,455.1L735.6,456.6M738.1,452.7L739.3,454.7M741.5,450.4L742.9,452.7" stroke="#3a2a00" stroke-width="1.1" fill="none"/>
<path d="M778.0,460.6L775.1,463.0M779.9,463.4L777.4,465.4M781.8,466.1L779.7,467.9M783.7,468.9L782.0,470.3M785.6,471.7L784.3,472.7" stroke="#3a2a00" stroke-width="1.1" fill="none"/>
<path d="M765.6,496.8L763.5,496.8M765.7,500.4L763.3,500.3M765.8,503.9L763.1,503.9M765.9,507.5L763.0,507.5M766.0,511.1L762.8,511.1M766.1,514.7L762.6,514.6M766.2,518.2L762.4,518.2" stroke="#3a2a00" stroke-width="1.1" fill="none"/>
<path d="M809.5,492.1L808.8,493.1M812.8,494.1L811.6,495.6M816.0,496.1L814.5,498.1M819.2,498.1L817.4,500.6M822.5,500.2L820.3,503.1M825.7,502.2L823.2,505.6" stroke="#3a2a00" stroke-width="1.1" fill="none"/>
<polygon points="729.8,459.0 711.0,456.8 711.0,461.2" fill="#3a2a00"/>
<polygon points="764.3,492.5 751.9,507.7 756.1,510.3" fill="#3a2a00"/>
<polygon points="807.6,521.0 821.4,535.9 824.6,532.1" fill="#3a2a00"/>
</g>
<g filter="url(#b05)">
<text x="748.5" y="452" font-family='"Liberation Serif", serif' font-weight="bold" font-size="11.5" fill="#3a2a00" text-anchor="middle" >O</text>
<text x="771.7" y="461.3" font-family='"Liberation Serif", serif' font-weight="bold" font-size="11.5" fill="#3a2a00" text-anchor="middle" >O</text>
<text x="739.7" y="491.5" font-family='"Liberation Serif", serif' font-weight="bold" font-size="11.5" fill="#3a2a00" text-anchor="middle" >O</text>
<text x="762.3" y="531" font-family='"Liberation Serif", serif' font-weight="bold" font-size="11.5" fill="#3a2a00" text-anchor="middle" >O</text>
<text x="787.9" y="579.5" font-family='"Liberation Serif", serif' font-weight="bold" font-size="11.5" fill="#3a2a00" text-anchor="middle" >O</text>
<text x="785.9" y="415" font-family='"Liberation Serif", serif' font-weight="bold" font-size="11.5" fill="#3a2a00" text-anchor="middle" >H</text>
<text x="812.5" y="398" font-family='"Liberation Serif", serif' font-weight="bold" font-size="11.5" fill="#3a2a00" text-anchor="middle" >CH<tspan font-size="7.5" dy="2">3</tspan></text>
<text x="697" y="464" font-family='"Liberation Serif", serif' font-weight="bold" font-size="11.5" fill="#3a2a00" text-anchor="middle" >H<tspan font-size="7.5" dy="2">3</tspan><tspan dy="-2">C</tspan></text>
<text x="745.6" y="517.5" font-family='"Liberation Serif", serif' font-weight="bold" font-size="11.5" fill="#3a2a00" text-anchor="middle" >H</text>
<text x="835" y="511" font-family='"Liberation Serif", serif' font-weight="bold" font-size="11.5" fill="#3a2a00" text-anchor="middle" >H</text>
<text x="834.5" y="545" font-family='"Liberation Serif", serif' font-weight="bold" font-size="11.5" fill="#3a2a00" text-anchor="middle" >CH<tspan font-size="7.5" dy="2">3</tspan></text>
</g>
<text transform="translate(760.93,381.40) scale(0.7533,0.8413)" font-family='"Liberation Serif", serif' font-weight="bold" font-size="40.0" fill="#0d0600" stroke="#0d0600" stroke-width="1.4" stroke-linejoin="round" >Art</text>
<polygon points="841.5,522.0 841.7,522.0 842.1,522.0 842.4,522.0 842.7,522.0 843.1,522.0 843.5,522.1 843.9,522.1 844.3,522.1 844.8,522.1 845.3,522.1 845.7,522.1 846.2,522.1 846.7,522.1 847.3,522.1 847.8,522.1 848.3,522.1 848.9,522.2 849.4,522.2 850.0,522.2 850.6,522.2 851.2,522.2 851.7,522.2 852.3,522.2 852.9,522.3 853.5,522.3 854.1,522.3 854.7,522.3 855.3,522.4 855.8,522.4 856.4,522.4 857.0,522.5 857.5,522.5 858.1,522.5 858.6,522.6 859.2,522.6 859.7,522.7 860.2,522.7 860.7,522.8 861.2,522.8 861.6,522.9 862.1,522.9 862.6,523.0 863.0,523.0 863.5,523.1 863.9,523.2 864.4,523.2 864.9,523.3 865.3,523.4 865.8,523.4 866.2,523.5 866.7,523.6 867.1,523.7 867.6,523.8 868.0,523.8 868.4,523.9 868.9,524.0 869.3,524.1 869.8,524.2 870.2,524.3 870.6,524.4 871.1,524.4 871.5,524.5 871.9,524.6 872.4,524.7 872.8,524.8 873.2,524.9 873.6,525.1 874.1,525.2 874.5,525.3 874.9,525.4 875.3,525.5 875.8,525.6 876.2,525.7 876.6,525.9 877.0,526.0 877.4,526.1 877.9,526.2 878.3,526.4 878.7,526.5 879.1,526.6 879.6,526.8 880.0,526.9 880.4,527.1 880.9,527.2 881.3,527.3 881.7,527.5 882.1,527.6 882.5,527.7 883.0,527.9 883.4,528.0 883.8,528.1 884.2,528.3 884.6,528.4 885.0,528.6 885.4,528.7 885.8,528.8 886.2,529.0 886.6,529.1 887.0,529.3 887.3,529.4 887.7,529.6 888.1,529.8 888.5,529.9 888.9,530.1 889.3,530.3 889.6,530.4 890.0,530.6 890.4,530.8 890.8,531.0 891.2,531.2 891.5,531.4 891.9,531.7 892.3,531.9 892.7,532.1 893.0,532.4 893.4,532.6 893.8,532.9 894.2,533.1 894.6,533.4 895.0,533.7 895.4,534.0 895.8,534.3 896.2,534.7 896.6,535.0 897.0,535.4 897.4,535.7 897.8,536.1 898.2,536.5 898.6,536.8 899.1,537.2 899.5,537.6 899.9,538.0 900.3,538.4 900.8,538.9 901.2,539.3 901.6,539.7 902.1,540.2 902.5,540.6 902.9,541.1 903.3,541.5 903.8,542.0 904.2,542.5 904.6,542.9 905.0,543.4 905.4,543.9 905.8,544.4 906.3,544.9 906.7,545.3 907.1,545.8 907.5,546.3 907.9,546.8 908.3,547.3 908.6,547.8 909.0,548.3 909.4,548.8 909.8,549.3 910.1,549.8 910.5,550.3 910.9,550.8 911.2,551.3 911.5,551.8 911.9,552.3 912.2,552.8 912.5,553.3 912.8,553.9 913.2,554.4 913.5,554.9 913.8,555.5 914.1,556.0 914.4,556.5 914.7,557.1 915.0,557.6 915.3,558.2 915.6,558.7 915.9,559.3 916.2,559.9 916.4,560.4 916.7,561.0 917.0,561.6 917.3,562.2 917.6,562.8 917.8,563.4 918.1,563.9 918.4,564.5 918.7,565.1 918.9,565.7 919.2,566.3 919.5,566.9 919.7,567.5 920.0,568.1 920.3,568.7 920.5,569.3 920.8,569.9 921.1,570.5 921.4,571.1 921.6,571.7 921.9,572.4 922.2,573.0 922.4,573.6 922.7,574.2 923.0,574.8 923.3,575.4 923.5,576.0 923.8,576.6 924.1,577.2 924.3,577.9 924.6,578.5 924.9,579.1 925.1,579.8 925.4,580.5 925.6,581.1 925.9,581.8 926.2,582.4 926.4,583.1 926.7,583.8 927.0,584.4 927.2,585.1 927.5,585.8 927.7,586.4 928.0,587.1 928.3,587.8 928.5,588.4 928.8,589.1 929.0,589.7 929.3,590.4 929.5,591.0 929.8,591.6 930.0,592.3 930.3,592.9 930.5,593.5 930.7,594.1 931.0,594.7 931.2,595.3 931.5,595.9 931.7,596.4 931.9,597.0 932.2,597.5 932.4,598.1 932.6,598.6 932.9,599.1 933.1,599.6 933.3,600.1 933.5,600.6 933.8,601.1 934.0,601.5 934.2,602.0 934.5,602.5 934.7,602.9 930.4,605.1 942.4,612.3 942.9,598.8 938.7,601.0 938.4,600.5 938.2,600.1 938.0,599.6 937.8,599.2 937.6,598.7 937.4,598.2 937.2,597.8 936.9,597.3 936.7,596.8 936.5,596.3 936.3,595.8 936.1,595.3 935.9,594.7 935.6,594.2 935.4,593.6 935.2,593.0 935.0,592.4 934.7,591.8 934.5,591.2 934.3,590.6 934.0,590.0 933.8,589.4 933.5,588.7 933.3,588.1 933.1,587.4 932.8,586.8 932.6,586.1 932.3,585.5 932.1,584.8 931.8,584.1 931.6,583.4 931.3,582.8 931.1,582.1 930.8,581.4 930.5,580.7 930.3,580.1 930.0,579.4 929.8,578.7 929.5,578.0 929.2,577.4 929.0,576.7 928.7,576.1 928.4,575.4 928.2,574.8 927.9,574.1 927.6,573.5 927.4,572.8 927.1,572.2 926.8,571.6 926.6,571.0 926.3,570.4 926.0,569.8 925.8,569.2 925.5,568.6 925.2,568.0 925.0,567.4 924.7,566.8 924.5,566.2 924.2,565.6 923.9,564.9 923.7,564.3 923.4,563.7 923.1,563.1 922.9,562.5 922.6,561.9 922.3,561.3 922.0,560.7 921.7,560.1 921.5,559.5 921.2,558.9 920.9,558.3 920.6,557.7 920.3,557.1 920.0,556.5 919.7,555.9 919.4,555.3 919.1,554.7 918.8,554.1 918.5,553.6 918.2,553.0 917.8,552.4 917.5,551.8 917.2,551.3 916.8,550.7 916.5,550.1 916.1,549.6 915.8,549.0 915.4,548.5 915.0,547.9 914.7,547.4 914.3,546.9 913.9,546.3 913.5,545.8 913.1,545.2 912.7,544.7 912.3,544.2 911.9,543.6 911.5,543.1 911.1,542.6 910.7,542.1 910.2,541.6 909.8,541.0 909.4,540.5 908.9,540.0 908.5,539.5 908.1,539.0 907.6,538.5 907.2,538.0 906.7,537.5 906.3,537.0 905.9,536.6 905.4,536.1 905.0,535.6 904.5,535.2 904.1,534.7 903.6,534.3 903.2,533.8 902.7,533.4 902.3,533.0 901.8,532.5 901.4,532.1 900.9,531.7 900.5,531.3 900.0,530.9 899.6,530.6 899.1,530.2 898.7,529.8 898.2,529.5 897.8,529.1 897.4,528.8 896.9,528.5 896.5,528.2 896.0,527.9 895.6,527.6 895.1,527.3 894.7,527.0 894.2,526.8 893.8,526.5 893.4,526.3 892.9,526.0 892.5,525.8 892.0,525.6 891.6,525.4 891.2,525.1 890.7,524.9 890.3,524.7 889.8,524.6 889.4,524.4 889.0,524.2 888.5,524.0 888.1,523.9 887.7,523.7 887.3,523.5 886.8,523.4 886.4,523.2 886.0,523.1 885.5,522.9 885.1,522.8 884.7,522.6 884.3,522.5 883.8,522.4 883.4,522.2 883.0,522.1 882.6,521.9 882.2,521.8 881.7,521.6 881.3,521.5 880.9,521.4 880.4,521.2 880.0,521.1 879.5,520.9 879.1,520.8 878.6,520.6 878.2,520.5 877.7,520.4 877.3,520.2 876.8,520.1 876.4,520.0 875.9,519.8 875.5,519.7 875.0,519.6 874.6,519.5 874.1,519.4 873.7,519.3 873.2,519.1 872.8,519.0 872.3,518.9 871.8,518.8 871.4,518.7 870.9,518.6 870.5,518.5 870.0,518.4 869.5,518.3 869.1,518.2 868.6,518.1 868.1,518.1 867.7,518.0 867.2,517.9 866.7,517.8 866.2,517.7 865.8,517.6 865.3,517.6 864.8,517.5 864.3,517.4 863.8,517.3 863.3,517.3 862.9,517.2 862.4,517.1 861.9,517.1 861.3,517.0 860.8,516.9 860.2,516.9 859.7,516.8 859.1,516.8 858.5,516.7 858.0,516.7 857.4,516.6 856.8,516.6 856.2,516.6 855.6,516.5 855.0,516.5 854.4,516.5 853.8,516.4 853.2,516.4 852.6,516.4 852.0,516.3 851.4,516.3 850.8,516.3 850.2,516.3 849.6,516.3 849.0,516.2 848.5,516.2 847.9,516.2 847.4,516.2 846.9,516.2 846.4,516.2 845.9,516.1 845.4,516.1 844.9,516.1 844.5,516.1 844.1,516.1 843.7,516.1 843.3,516.1 842.9,516.1 842.6,516.0 842.3,516.0 842.0,516.0 841.7,516.0" fill="#000"/>
<polygon points="904.6,600.7 931.2,624.3 945.9,603.6 957.7,618.4 989.2,603.6 980.3,635.1 1010.8,628.2 995.1,646.9 1036.4,656.7 997.1,664.6 1003.0,673.5 987.2,676.4 1004.9,704.0 972.5,686.2 968.5,704.0 955.7,689.2 943.0,704.9 931.2,690.2 918.4,704.0 909.5,690.2 887.9,705.9 891.8,684.3 864.3,675.4 883.0,665.6 859.3,644.9 889.8,643.0 873.1,621.3 906.6,627.2" fill="#92e086" stroke="#0a4444" stroke-width="2" stroke-linejoin="miter"/>
<text transform="translate(901.77,663.40) scale(0.6738,0.7800)" font-family='"Liberation Serif", serif' font-weight="bold" font-size="40.0" fill="#04140a" stroke="#04140a" stroke-width="1.3" stroke-linejoin="round" >Art*</text>
<text transform="translate(144.20,367.80) scale(0.8872,1.0970)" font-family='"Liberation Serif", serif' font-weight="bold" font-size="40.0" fill="#0c0006" stroke="#0c0006" stroke-width="1.2" stroke-linejoin="round" >Erythrocyte</text>
<text transform="translate(925.83,503.60) scale(0.6959,0.8194)" font-family='"Liberation Serif", serif' font-weight="bold" font-size="40.0" fill="#0d0600" stroke="#0d0600" stroke-width="1.3" stroke-linejoin="round" >Endoperoxide</text>
<text transform="translate(924.78,544.10) scale(0.6999,0.7627)" font-family='"Liberation Serif", serif' font-weight="bold" font-size="40.0" fill="#0d0600" stroke="#0d0600" stroke-width="1.3" stroke-linejoin="round" >cleavage</text>
<text transform="translate(662.14,861.20) scale(0.8016,0.8566)" font-family='"Liberation Serif", serif' font-weight="bold" font-size="40.0" fill="#0d0600" stroke="#0d0600" stroke-width="1.3" stroke-linejoin="round" >Proteins, lipids</text>
<text transform="translate(661.66,909.00) scale(0.7982,0.8827)" font-family='"Liberation Serif", serif' font-weight="bold" font-size="40.0" fill="#0d0600" stroke="#0d0600" stroke-width="1.3" stroke-linejoin="round" >and Nucleic acid</text>
<text transform="translate(1162.94,786.80) scale(0.7938,0.9088)" font-family='"Liberation Serif", serif' font-weight="bold" font-size="40.0" fill="#0d0600" stroke="#0d0600" stroke-width="1.3" stroke-linejoin="round" >Parasite</text>
<text transform="translate(1162.16,835.00) scale(0.7825,0.8752)" font-family='"Liberation Serif", serif' font-weight="bold" font-size="40.0" fill="#0d0600" stroke="#0d0600" stroke-width="1.3" stroke-linejoin="round" >death</text>
<polygon points="879.2,697.9 786.7,742.4 784.7,738.2 781.5,747.8 791.0,751.3 788.9,747.1 881.4,702.5" fill="#ff86d8" stroke="#0c1445" stroke-width="1.8" stroke-linejoin="miter"/>
<polygon points="1082.4,957.6 1162.3,864.5 1165.7,867.5 1171.5,850.0 1155.1,858.3 1158.5,861.3 1078.6,954.4" fill="#000"/>
<polygon points="786.3,910.2 786.4,910.5 786.5,910.8 786.6,911.1 786.6,911.5 786.7,911.9 786.8,912.3 786.9,912.7 787.0,913.2 787.1,913.6 787.3,914.1 787.4,914.6 787.5,915.2 787.6,915.7 787.7,916.3 787.9,916.8 788.0,917.4 788.1,918.0 788.3,918.6 788.4,919.2 788.6,919.8 788.7,920.4 788.9,921.1 789.0,921.7 789.2,922.4 789.3,923.0 789.5,923.7 789.6,924.3 789.8,924.9 790.0,925.6 790.1,926.2 790.3,926.9 790.4,927.5 790.6,928.2 790.8,928.8 790.9,929.4 791.1,930.0 791.2,930.6 791.4,931.2 791.6,931.8 791.7,932.4 791.9,932.9 792.0,933.5 792.2,934.1 792.4,934.6 792.5,935.2 792.7,935.7 792.9,936.3 793.0,936.8 793.2,937.4 793.4,937.9 793.6,938.5 793.7,939.0 793.9,939.6 794.1,940.1 794.3,940.7 794.4,941.2 794.6,941.8 794.8,942.3 795.0,942.9 795.2,943.4 795.3,944.0 795.5,944.5 795.7,945.1 795.9,945.7 796.1,946.2 796.3,946.8 796.4,947.4 796.6,947.9 796.8,948.5 797.0,949.1 797.2,949.7 797.4,950.2 797.6,950.8 797.8,951.4 798.0,952.0 798.1,952.6 798.3,953.2 798.5,953.8 798.7,954.5 798.9,955.1 799.1,955.7 799.3,956.3 799.5,957.0 799.7,957.6 799.9,958.3 800.1,958.9 800.3,959.6 800.5,960.3 800.7,961.0 800.9,961.6 801.1,962.3 801.3,963.0 801.5,963.7 801.7,964.4 801.9,965.1 802.1,965.8 802.3,966.5 802.5,967.2 802.7,967.9 802.9,968.6 803.1,969.4 803.3,970.1 803.5,970.8 803.7,971.5 804.0,972.2 804.2,972.9 804.4,973.6 804.6,974.3 804.8,975.0 805.0,975.8 805.3,976.5 805.5,977.2 805.7,977.9 805.9,978.5 806.1,979.2 806.4,979.9 806.6,980.6 806.8,981.3 807.0,982.0 807.3,982.6 807.5,983.3 807.7,983.9 808.0,984.6 808.2,985.3 808.4,985.9 808.7,986.6 808.9,987.2 809.1,987.9 809.4,988.6 809.6,989.2 809.9,989.9 810.1,990.6 810.3,991.2 810.6,991.9 810.8,992.5 811.1,993.2 811.3,993.8 811.6,994.5 811.8,995.1 812.1,995.8 812.3,996.4 812.6,997.0 812.8,997.7 813.1,998.3 813.3,998.9 813.6,999.6 813.8,1000.2 814.1,1000.8 814.3,1001.4 814.6,1002.0 814.8,1002.6 815.1,1003.2 815.3,1003.8 815.6,1004.4 815.8,1005.0 816.1,1005.5 816.3,1006.1 816.6,1006.7 816.8,1007.2 817.1,1007.8 817.3,1008.3 817.6,1008.9 817.8,1009.4 818.1,1009.9 818.3,1010.4 818.5,1011.0 818.8,1011.5 819.0,1012.0 819.3,1012.5 819.5,1013.0 819.7,1013.5 820.0,1014.0 820.2,1014.5 820.4,1015.0 820.7,1015.5 820.9,1015.9 821.2,1016.4 821.4,1016.9 821.6,1017.4 821.9,1017.8 822.1,1018.3 822.4,1018.7 822.6,1019.2 822.9,1019.6 823.1,1020.1 823.4,1020.5 823.6,1021.0 823.9,1021.4 824.1,1021.9 824.4,1022.3 824.7,1022.7 824.9,1023.1 825.2,1023.6 825.5,1024.0 825.7,1024.4 826.0,1024.8 826.3,1025.2 826.6,1025.6 826.9,1026.0 827.2,1026.4 827.4,1026.8 827.7,1027.2 828.0,1027.6 828.3,1027.9 828.6,1028.3 828.9,1028.7 829.2,1029.0 829.6,1029.4 829.9,1029.7 830.2,1030.1 830.5,1030.4 830.8,1030.8 831.1,1031.1 831.4,1031.4 831.7,1031.7 832.1,1032.1 832.4,1032.4 832.7,1032.7 833.0,1033.0 833.4,1033.3 833.7,1033.6 834.0,1033.9 834.3,1034.2 834.7,1034.5 835.0,1034.8 835.3,1035.0 835.7,1035.3 836.0,1035.6 836.3,1035.9 836.7,1036.2 837.0,1036.4 837.3,1036.7 837.7,1037.0 838.0,1037.2 838.4,1037.5 838.7,1037.7 839.0,1038.0 839.4,1038.2 839.7,1038.5 840.1,1038.7 840.4,1039.0 840.8,1039.2 841.1,1039.5 841.5,1039.7 841.8,1040.0 842.2,1040.2 842.6,1040.4 842.9,1040.7 843.3,1040.9 843.7,1041.1 844.0,1041.3 844.4,1041.6 844.8,1041.8 845.1,1042.0 845.5,1042.2 845.9,1042.4 846.3,1042.6 846.7,1042.8 847.0,1043.0 847.4,1043.2 847.8,1043.4 848.2,1043.6 848.6,1043.8 849.0,1044.0 849.3,1044.2 849.7,1044.4 850.1,1044.5 850.5,1044.7 850.9,1044.9 851.3,1045.1 851.7,1045.2 852.1,1045.4 852.5,1045.5 852.8,1045.7 853.2,1045.8 853.6,1046.0 854.0,1046.1 854.4,1046.3 854.8,1046.4 855.2,1046.5 855.6,1046.6 856.0,1046.8 856.4,1046.9 856.8,1047.0 857.2,1047.1 857.6,1047.2 858.0,1047.3 858.4,1047.4 858.8,1047.5 859.2,1047.6 859.6,1047.7 860.0,1047.7 860.4,1047.8 860.8,1047.9 861.2,1048.0 861.7,1048.0 862.1,1048.1 862.5,1048.1 862.9,1048.2 863.3,1048.3 863.7,1048.3 864.1,1048.3 864.5,1048.4 864.9,1048.4 865.3,1048.5 865.7,1048.5 866.1,1048.5 866.5,1048.6 866.9,1048.6 867.3,1048.6 867.7,1048.6 868.1,1048.7 868.5,1048.7 868.9,1048.7 869.3,1048.7 869.7,1048.7 870.1,1048.8 870.5,1048.8 870.9,1048.8 871.3,1048.8 871.7,1048.8 872.1,1048.8 872.5,1048.8 872.9,1048.8 873.3,1048.8 873.7,1048.8 874.1,1048.8 874.5,1048.8 875.0,1048.8 875.4,1048.8 875.8,1048.7 876.2,1048.7 876.6,1048.7 877.0,1048.7 877.4,1048.7 877.9,1048.6 878.3,1048.6 878.7,1048.6 879.1,1048.5 879.5,1048.5 879.9,1048.5 880.3,1048.4 880.7,1048.4 881.2,1048.3 881.6,1048.3 882.0,1048.2 882.4,1048.2 882.8,1048.1 883.2,1048.1 883.6,1048.0 884.0,1048.0 884.4,1047.9 884.8,1047.8 885.2,1047.8 885.6,1047.7 886.0,1047.7 886.4,1047.6 886.8,1047.5 887.2,1047.5 887.5,1047.4 887.9,1047.3 888.3,1047.3 888.7,1047.2 889.1,1047.1 889.5,1047.0 889.9,1046.9 890.3,1046.8 890.6,1046.8 891.0,1046.7 891.4,1046.6 891.8,1046.5 892.1,1046.4 892.5,1046.3 892.9,1046.2 893.2,1046.1 893.6,1046.0 894.0,1045.9 894.3,1045.8 894.7,1045.7 895.1,1045.6 895.4,1045.4 895.8,1045.3 896.1,1045.2 896.5,1045.1 896.8,1045.0 897.2,1044.9 897.5,1044.8 897.9,1044.7 898.2,1044.6 898.6,1044.5 898.9,1044.3 899.3,1044.2 899.6,1044.1 900.0,1044.0 900.4,1043.9 900.7,1043.8 901.1,1043.7 901.4,1043.6 901.8,1043.5 902.1,1043.4 902.5,1043.2 902.9,1043.1 903.3,1043.0 903.7,1042.9 904.8,1046.6 916.0,1035.5 900.6,1033.2 901.8,1037.0 901.4,1037.1 901.0,1037.2 900.6,1037.3 900.3,1037.4 899.9,1037.6 899.5,1037.7 899.2,1037.8 898.8,1037.9 898.5,1038.0 898.1,1038.2 897.7,1038.3 897.4,1038.4 897.0,1038.5 896.7,1038.6 896.3,1038.8 896.0,1038.9 895.7,1039.0 895.3,1039.1 895.0,1039.2 894.6,1039.3 894.3,1039.4 893.9,1039.6 893.6,1039.7 893.3,1039.8 892.9,1039.9 892.6,1040.0 892.2,1040.1 891.9,1040.2 891.6,1040.3 891.2,1040.4 890.9,1040.5 890.6,1040.6 890.2,1040.7 889.9,1040.8 889.5,1040.9 889.2,1041.0 888.9,1041.1 888.5,1041.1 888.2,1041.2 887.8,1041.3 887.5,1041.4 887.2,1041.5 886.8,1041.5 886.5,1041.6 886.1,1041.7 885.7,1041.7 885.4,1041.8 885.0,1041.9 884.6,1041.9 884.3,1042.0 883.9,1042.1 883.5,1042.1 883.1,1042.2 882.7,1042.3 882.4,1042.3 882.0,1042.4 881.6,1042.4 881.2,1042.5 880.8,1042.5 880.5,1042.6 880.1,1042.6 879.7,1042.7 879.3,1042.7 878.9,1042.8 878.5,1042.8 878.2,1042.9 877.8,1042.9 877.4,1042.9 877.0,1043.0 876.6,1043.0 876.2,1043.0 875.9,1043.1 875.5,1043.1 875.1,1043.1 874.7,1043.1 874.3,1043.1 874.0,1043.2 873.6,1043.2 873.2,1043.2 872.8,1043.2 872.5,1043.2 872.1,1043.2 871.7,1043.2 871.3,1043.2 871.0,1043.2 870.6,1043.2 870.2,1043.2 869.8,1043.2 869.5,1043.2 869.1,1043.2 868.7,1043.2 868.3,1043.1 868.0,1043.1 867.6,1043.1 867.2,1043.1 866.8,1043.1 866.5,1043.1 866.1,1043.0 865.7,1043.0 865.4,1043.0 865.0,1043.0 864.6,1042.9 864.3,1042.9 863.9,1042.8 863.5,1042.8 863.2,1042.8 862.8,1042.7 862.4,1042.7 862.1,1042.6 861.7,1042.6 861.4,1042.5 861.0,1042.5 860.6,1042.4 860.3,1042.3 859.9,1042.3 859.6,1042.2 859.2,1042.1 858.9,1042.0 858.5,1041.9 858.2,1041.9 857.8,1041.8 857.5,1041.7 857.1,1041.6 856.8,1041.5 856.4,1041.4 856.1,1041.3 855.7,1041.1 855.4,1041.0 855.0,1040.9 854.7,1040.8 854.3,1040.7 854.0,1040.5 853.6,1040.4 853.3,1040.2 852.9,1040.1 852.6,1040.0 852.2,1039.8 851.8,1039.7 851.5,1039.5 851.1,1039.3 850.8,1039.2 850.4,1039.0 850.1,1038.8 849.7,1038.7 849.4,1038.5 849.0,1038.3 848.7,1038.1 848.3,1038.0 848.0,1037.8 847.6,1037.6 847.3,1037.4 847.0,1037.2 846.6,1037.0 846.3,1036.8 845.9,1036.6 845.6,1036.4 845.2,1036.2 844.9,1036.0 844.6,1035.8 844.2,1035.5 843.9,1035.3 843.6,1035.1 843.3,1034.9 842.9,1034.7 842.6,1034.4 842.3,1034.2 841.9,1034.0 841.6,1033.7 841.3,1033.5 841.0,1033.3 840.6,1033.0 840.3,1032.8 840.0,1032.6 839.7,1032.3 839.4,1032.1 839.1,1031.8 838.7,1031.6 838.4,1031.3 838.1,1031.1 837.8,1030.8 837.5,1030.5 837.2,1030.3 836.9,1030.0 836.6,1029.8 836.3,1029.5 836.0,1029.2 835.7,1028.9 835.4,1028.6 835.1,1028.4 834.8,1028.1 834.5,1027.8 834.2,1027.5 833.9,1027.2 833.6,1026.9 833.3,1026.6 833.1,1026.3 832.8,1025.9 832.5,1025.6 832.2,1025.3 831.9,1025.0 831.7,1024.6 831.4,1024.3 831.1,1024.0 830.8,1023.6 830.6,1023.3 830.3,1022.9 830.0,1022.5 829.8,1022.2 829.5,1021.8 829.3,1021.4 829.0,1021.0 828.8,1020.7 828.5,1020.3 828.2,1019.9 828.0,1019.5 827.7,1019.1 827.5,1018.7 827.3,1018.3 827.0,1017.9 826.8,1017.4 826.5,1017.0 826.3,1016.6 826.0,1016.2 825.8,1015.7 825.6,1015.3 825.3,1014.8 825.1,1014.4 824.8,1013.9 824.6,1013.5 824.4,1013.0 824.1,1012.5 823.9,1012.1 823.6,1011.6 823.4,1011.1 823.1,1010.6 822.9,1010.1 822.7,1009.6 822.4,1009.1 822.2,1008.6 821.9,1008.1 821.7,1007.6 821.4,1007.1 821.2,1006.5 820.9,1006.0 820.7,1005.5 820.4,1004.9 820.1,1004.4 819.9,1003.8 819.6,1003.3 819.4,1002.7 819.1,1002.2 818.9,1001.6 818.6,1001.0 818.3,1000.4 818.1,999.8 817.8,999.2 817.6,998.6 817.3,998.0 817.0,997.4 816.8,996.8 816.5,996.2 816.3,995.5 816.0,994.9 815.8,994.3 815.5,993.7 815.2,993.0 815.0,992.4 814.7,991.8 814.5,991.1 814.2,990.5 814.0,989.8 813.7,989.2 813.4,988.5 813.2,987.9 812.9,987.2 812.7,986.6 812.4,985.9 812.2,985.3 811.9,984.6 811.7,984.0 811.5,983.3 811.2,982.7 811.0,982.0 810.7,981.4 810.5,980.7 810.3,980.1 810.0,979.4 809.8,978.8 809.6,978.1 809.3,977.4 809.1,976.7 808.9,976.1 808.6,975.4 808.4,974.7 808.2,974.0 808.0,973.3 807.7,972.6 807.5,971.9 807.3,971.2 807.1,970.5 806.8,969.8 806.6,969.1 806.4,968.4 806.2,967.7 805.9,967.0 805.7,966.3 805.5,965.6 805.3,964.9 805.1,964.2 804.9,963.5 804.6,962.8 804.4,962.1 804.2,961.4 804.0,960.7 803.8,960.0 803.6,959.3 803.4,958.7 803.1,958.0 802.9,957.3 802.7,956.7 802.5,956.0 802.3,955.4 802.1,954.8 801.9,954.1 801.7,953.5 801.5,952.9 801.3,952.3 801.1,951.7 800.9,951.1 800.7,950.5 800.4,949.9 800.2,949.3 800.0,948.7 799.8,948.1 799.6,947.5 799.4,947.0 799.2,946.4 799.0,945.8 798.8,945.3 798.7,944.7 798.5,944.2 798.3,943.6 798.1,943.1 797.9,942.5 797.7,942.0 797.5,941.4 797.3,940.9 797.1,940.3 796.9,939.8 796.7,939.2 796.6,938.7 796.4,938.2 796.2,937.6 796.0,937.1 795.8,936.5 795.7,936.0 795.5,935.5 795.3,934.9 795.1,934.4 795.0,933.8 794.8,933.3 794.6,932.7 794.4,932.2 794.3,931.6 794.1,931.1 793.9,930.5 793.8,929.9 793.6,929.3 793.4,928.7 793.3,928.1 793.1,927.5 792.9,926.9 792.7,926.2 792.6,925.6 792.4,925.0 792.2,924.3 792.1,923.7 791.9,923.0 791.7,922.4 791.5,921.8 791.4,921.1 791.2,920.5 791.1,919.9 790.9,919.3 790.7,918.6 790.6,918.0 790.4,917.4 790.3,916.8 790.1,916.3 790.0,915.7 789.9,915.2 789.7,914.6 789.6,914.1 789.5,913.6 789.4,913.1 789.2,912.6 789.1,912.2 789.0,911.7 788.9,911.3 788.8,910.9 788.7,910.6 788.6,910.2 788.5,909.9 788.5,909.6" fill="#000"/>
<polygon points="1009.0,928.5 1028.5,942.8 1052.2,943.5 1060.1,967.3 1078.9,982.7 1072.2,1007.0 1078.9,1031.3 1060.1,1046.7 1052.2,1070.5 1028.5,1071.2 1009.0,1085.5 989.5,1071.2 965.8,1070.5 957.9,1046.7 939.1,1031.3 945.8,1007.0 939.1,982.7 957.9,967.3 965.8,943.5 989.5,942.8" fill="#7fcfcf" stroke="#3d7a86" stroke-width="1.5"/>
<g filter="url(#b05)"><ellipse cx="978.8" cy="997.5" rx="10.6" ry="13" fill="url(#ves)" stroke="#ff8c3a" stroke-width="1.8"/><path d="M975.0,993.5q-2,6 0,12M982.5999999999999,992.5q2,6 0,12" stroke="#d03800" stroke-width="1.3" fill="none"/><path d="M974.8,988.0q5,-3 9,1" stroke="#3a8ae8" stroke-width="3" fill="none" stroke-linecap="round"/><path d="M975.8,1006.5h2M980.3,1007.0h2" stroke="#ffd0a0" stroke-width="1.4"/></g>
<g filter="url(#b05)"><ellipse cx="1016.1" cy="983.7" rx="10.6" ry="13" fill="url(#ves)" stroke="#ff8c3a" stroke-width="1.8"/><path d="M1012.3000000000001,979.7q-2,6 0,12M1019.9,978.7q2,6 0,12" stroke="#d03800" stroke-width="1.3" fill="none"/><path d="M1012.1,974.2q5,-3 9,1" stroke="#3a8ae8" stroke-width="3" fill="none" stroke-linecap="round"/><path d="M1013.1,992.7h2M1017.6,993.2h2" stroke="#ffd0a0" stroke-width="1.4"/></g>
<g filter="url(#b05)"><ellipse cx="1003.8" cy="1012.5" rx="10.6" ry="13" fill="url(#ves)" stroke="#ff8c3a" stroke-width="1.8"/><path d="M1000.0,1008.5q-2,6 0,12M1007.5999999999999,1007.5q2,6 0,12" stroke="#d03800" stroke-width="1.3" fill="none"/><path d="M999.8,1003.0q5,-3 9,1" stroke="#3a8ae8" stroke-width="3" fill="none" stroke-linecap="round"/><path d="M1000.8,1021.5h2M1005.3,1022.0h2" stroke="#ffd0a0" stroke-width="1.4"/></g>
<g filter="url(#b05)"><ellipse cx="1026.2" cy="1040.4" rx="10.6" ry="13" fill="url(#ves)" stroke="#ff8c3a" stroke-width="1.8"/><path d="M1022.4000000000001,1036.4q-2,6 0,12M1030.0,1035.4q2,6 0,12" stroke="#d03800" stroke-width="1.3" fill="none"/><path d="M1022.2,1030.9q5,-3 9,1" stroke="#3a8ae8" stroke-width="3" fill="none" stroke-linecap="round"/><path d="M1023.2,1049.4h2M1027.7,1049.9h2" stroke="#ffd0a0" stroke-width="1.4"/></g>
<g filter="url(#b05)"><path d="M467.8,766.6C465.1,763.3 461.1,751.3 460.8,745.7C460.5,740.1 461.7,737.6 465.8,732.8C469.9,728.0 478.4,721.0 485.7,716.9C493.0,712.8 501.5,709.1 509.6,708.4C517.7,707.7 527.4,710.0 534.5,712.9C541.6,715.8 548.2,721.0 552.4,725.8C556.5,730.6 558.6,736.1 559.4,741.7C560.2,747.4 559.1,754.2 557.4,759.7C555.7,765.2 552.2,771.6 549.4,774.6C546.6,777.6 543.7,778.6 540.4,777.6C537.1,776.6 533.5,772.1 529.5,768.6C525.5,765.1 520.9,759.4 516.6,756.7C512.3,754.1 508.1,752.5 503.6,752.7C499.1,752.9 494.2,755.6 489.7,757.7C485.2,759.9 480.4,764.1 476.8,765.6C473.2,767.1 470.5,769.9 467.8,766.6Z" fill="#fffbe6" stroke="#ffe98a" stroke-width="1.5"/>
<path d="M467,740q-3.2,3.5 0,7.0t0,7.0t0,7.0M472.5,734q3.2,4.3 0,8.7t0,8.7t0,8.7M478,728q-3.2,4.8 0,9.7t0,9.7t0,9.7M495.5,720q3.2,4.8 0,9.7t0,9.7t0,9.7M501,717.5q-3.2,4.9 0,9.8t0,9.8t0,9.8M506.5,716q3.2,5.0 0,10.0t0,10.0t0,10.0M512,715.5q-3.2,5.3 0,10.7t0,10.7t0,10.7M517.5,715.5q3.2,5.8 0,11.5t0,11.5t0,11.5M523,716q-3.2,6.3 0,12.7t0,12.7t0,12.7M528.5,717.5q3.2,6.9 0,13.8t0,13.8t0,13.8M534,720q-3.2,7.3 0,14.7t0,14.7t0,14.7M539.5,723q3.2,7.7 0,15.3t0,15.3t0,15.3M545,727q-3.2,7.3 0,14.7t0,14.7t0,14.7M556,748q3.2,3.3 0,6.7t0,6.7t0,6.7" fill="none" stroke="#ffd036" stroke-width="2.0" stroke-linecap="round"/>
<ellipse cx="487.7" cy="738.8" rx="7.3" ry="8.5" fill="#f50000"/><ellipse cx="551.9" cy="740.2" rx="6.5" ry="10" fill="#f50000"/></g>
<g filter="url(#b05)"><path d="M678.9,986.8C679.4,983.6 679.6,980.8 682.8,977.8C685.9,974.8 692.0,970.9 697.8,968.9C703.6,966.9 710.7,965.7 717.7,965.9C724.7,966.1 733.0,967.8 739.6,969.9C746.2,972.0 752.9,975.5 757.5,978.8C762.1,982.1 765.5,986.0 767.4,989.8C769.3,993.6 769.4,997.7 768.9,1001.7C768.4,1005.7 766.5,1010.6 764.4,1013.6C762.3,1016.6 759.6,1019.6 756.5,1019.6C753.4,1019.6 749.1,1016.2 745.5,1013.6C741.9,1011.0 738.6,1006.4 734.6,1003.7C730.6,1001.1 725.8,998.7 721.6,997.7C717.5,996.7 713.7,997.0 709.7,997.7C705.7,998.4 701.6,1000.9 697.8,1001.7C694.0,1002.5 689.8,1003.5 686.8,1002.7C683.8,1001.9 681.2,999.4 679.9,996.7C678.6,994.1 678.4,989.9 678.9,986.8Z" fill="#fffbe6" stroke="#ffe98a" stroke-width="1.5"/>
<path d="M684.5,982q-3.2,2.8 0,5.7t0,5.7t0,5.7M690,977q3.2,3.7 0,7.3t0,7.3t0,7.3M695.5,973q-3.2,2.2 0,4.3t0,4.3t0,4.3M709,970q3.2,4.0 0,8.0t0,8.0t0,8.0M714.5,969q-3.2,4.1 0,8.2t0,8.2t0,8.2M720,968.5q3.2,4.2 0,8.5t0,8.5t0,8.5M725.5,968.5q-3.2,4.5 0,9.0t0,9.0t0,9.0M731,969q3.2,4.9 0,9.8t0,9.8t0,9.8M736.5,970.5q-3.2,5.3 0,10.7t0,10.7t0,10.7M742,973q3.2,4.5 0,9.0t0,9.0t0,9.0M756,981q-3.2,5.5 0,11.0t0,11.0t0,11.0M761.5,986q3.2,4.5 0,9.0t0,9.0t0,9.0" fill="none" stroke="#ffd036" stroke-width="2.0" stroke-linecap="round"/>
<path d="M704.4,980.3C710.3,987.9 708.9,999.3 701.2,999.3C692.8,999.3 692.8,986.9 704.4,980.3Z" fill="#f50000"/><path d="M752.6,998.2C758.6,1005.8 757.2,1017.2 749.5,1017.2C741.1,1017.2 741.1,1004.9 752.6,998.2Z" fill="#f50000"/></g>
<g filter="url(#b05)">
<defs><linearGradient id="prg" x1="0" y1="0" x2="0" y2="1"><stop offset="0" stop-color="#ff2400"/><stop offset="0.55" stop-color="#ff5200"/><stop offset="1" stop-color="#ff9400"/></linearGradient></defs>
<rect x="670" y="704" width="27.5" height="33" fill="url(#prg)" opacity="0.55"/>
<path d="M672.5,703L674.8,706.0L670.2,709.0L674.8,712.0L670.2,715.0L674.8,718.0L670.2,721.0L674.8,724.0L670.2,727.0L674.8,730.0L670.2,733.0L674.8,736.0L670.2,739.0" fill="none" stroke="url(#prg)" stroke-width="3.6" stroke-linejoin="round"/>
<path d="M679.5,703L681.8,706.0L677.2,709.0L681.8,712.0L677.2,715.0L681.8,718.0L677.2,721.0L681.8,724.0L677.2,727.0L681.8,730.0L677.2,733.0L681.8,736.0L677.2,739.0" fill="none" stroke="url(#prg)" stroke-width="3.6" stroke-linejoin="round"/>
<path d="M687,703L689.3,706.0L684.7,709.0L689.3,712.0L684.7,715.0L689.3,718.0L684.7,721.0L689.3,724.0L684.7,727.0L689.3,730.0L684.7,733.0L689.3,736.0L684.7,739.0" fill="none" stroke="url(#prg)" stroke-width="3.6" stroke-linejoin="round"/>
<path d="M694.5,703L696.8,706.0L692.2,709.0L696.8,712.0L692.2,715.0L696.8,718.0L692.2,721.0L696.8,724.0L692.2,727.0L696.8,730.0L692.2,733.0L696.8,736.0L692.2,739.0" fill="none" stroke="url(#prg)" stroke-width="3.6" stroke-linejoin="round"/>
<path d="M670,708H697.5" stroke="#ff3c00" stroke-width="1.5" opacity="0.75"/>
<path d="M670,714.5H697.5" stroke="#ff3c00" stroke-width="1.5" opacity="0.75"/>
<path d="M670,721H697.5" stroke="#ff3c00" stroke-width="1.5" opacity="0.75"/>
<path d="M670,727.5H697.5" stroke="#ff3c00" stroke-width="1.5" opacity="0.75"/>
<path d="M670,734H697.5" stroke="#ff3c00" stroke-width="1.5" opacity="0.75"/>
<path d="M683,705V736M676,707V735M691,707V735" stroke="#ffb020" stroke-width="1.1" opacity="0.7" stroke-dasharray="2 2.5"/>
<path d="M676,737L661,745M690,737L697,744L709,749" stroke="#ffe11a" stroke-width="2.8" fill="none"/>
<path d="M662,760L706,760L712,828L690,832L668,832L652,826Z" fill="#20c22a" opacity="0.8"/>
<path d="M657.0,762.0L654.4,765.2L659.7,768.3L654.5,771.5L659.7,774.5L654.6,777.7L659.8,780.8L654.7,784.0L659.9,787.1L654.7,790.3L660.0,793.4L654.8,796.6L660.0,799.7L654.9,802.9L660.1,806.0" fill="none" stroke="#1fbf20" stroke-width="3.2" stroke-linejoin="round" stroke-linecap="round"/>
<path d="M653.0,814.0L654.2,818.0L659.9,816.4L659.7,822.3L665.3,820.7L665.1,826.6L670.8,825.0L670.5,830.9" fill="none" stroke="#0f9a18" stroke-width="3.4" stroke-linejoin="round" stroke-linecap="round"/>
<path d="M660.0,806.0L656.7,808.0L659.4,812.6L654.1,813.7L656.9,818.3L651.6,819.4L654.3,824.0L649.0,825.1" fill="none" stroke="#1fbf20" stroke-width="3.2" stroke-linejoin="round" stroke-linecap="round"/>
<path d="M709.0,760.0L706.4,763.2L710.9,766.8L705.9,769.8L710.4,773.5L705.4,776.5L709.9,780.2L704.9,783.2L709.4,786.8L704.4,789.8L708.9,793.5L703.9,796.5L708.4,800.2" fill="none" stroke="#1fc020" stroke-width="3.0" stroke-linejoin="round" stroke-linecap="round"/>
<path d="M706.0,800.0L704.6,803.9L710.1,805.9L706.3,810.4L711.8,812.4L708.1,816.9L713.6,818.9L709.8,823.4L715.3,825.4" fill="none" stroke="#18a81c" stroke-width="3.4" stroke-linejoin="round" stroke-linecap="round"/>
<path d="M668.0,770.0L667.1,774.1L673.5,774.2L670.1,779.6L676.5,779.7L673.2,785.2L679.6,785.2L676.2,790.7L682.6,790.7L679.3,796.2L685.7,796.3L682.3,801.7L688.7,801.8L685.4,807.3L691.8,807.3L688.4,812.8L694.8,812.8L691.5,818.3L697.9,818.4L694.5,823.8L700.9,823.9L697.5,829.4" fill="none" stroke="#1fc424" stroke-width="3.8" stroke-linejoin="round" stroke-linecap="round"/>
<path d="M700.0,766.0L696.1,767.7L699.9,772.9L693.5,773.4L697.2,778.6L690.8,779.1L694.5,784.3L688.1,784.8L691.9,790.0L685.5,790.5L689.2,795.8L682.8,796.2L686.5,801.5L680.1,802.0L683.9,807.2L677.5,807.7L681.2,812.9L674.8,813.4L678.5,818.6L672.1,819.1L675.9,824.3L669.5,824.8" fill="none" stroke="#22c828" stroke-width="3.8" stroke-linejoin="round" stroke-linecap="round"/>
<path d="M684.0,760.0L681.5,763.3L686.8,766.3L681.7,769.6L687.0,772.7L681.9,776.0L687.1,779.0L682.0,782.3L687.3,785.4L682.2,788.7L687.5,791.7L682.4,795.1L687.7,798.1L682.6,801.4L687.9,804.5L682.8,807.8L688.1,810.8L682.9,814.2L688.2,817.2L683.1,820.5L688.4,823.6L683.3,826.9L688.6,829.9" fill="none" stroke="#20c020" stroke-width="3.4" stroke-linejoin="round" stroke-linecap="round"/>
<path d="M676.0,822.0L678.3,824.8L682.4,821.9L684.1,826.6L688.1,823.6L689.9,828.4L693.9,825.4L695.6,830.1L699.7,827.2L701.4,831.9" fill="none" stroke="#50cc20" stroke-width="3.0" stroke-linejoin="round" stroke-linecap="round"/>
<path d="M695.0,790.0L694.0,793.7L699.2,795.3L696.2,799.7L701.4,801.3L698.3,805.7L703.6,807.3L700.5,811.7L705.7,813.3L702.7,817.7L707.9,819.3L704.8,823.7L710.1,825.3" fill="none" stroke="#1cb020" stroke-width="3.2" stroke-linejoin="round" stroke-linecap="round"/>
<path d="M672.0,790.0L669.0,792.5L672.3,796.8L667.2,798.7L670.5,803.0L665.3,804.8L668.7,809.2L663.5,811.0L666.8,815.3L661.7,817.2L665.0,821.5L659.9,823.4" fill="none" stroke="#1cb020" stroke-width="3.2" stroke-linejoin="round" stroke-linecap="round"/>
<path d="M690.0,764.0L686.2,765.7L689.4,770.9L683.3,771.5L686.5,776.7L680.5,777.3L683.7,782.5L677.6,783.1L680.8,788.3L674.7,788.8L677.9,794.1L671.8,794.6L675.0,799.8L668.9,800.4L672.1,805.6L666.0,806.2L669.2,811.4L663.1,811.9L666.3,817.2" fill="none" stroke="#20dfe6" stroke-width="3.8" stroke-linejoin="round" stroke-linecap="round"/>
<path d="M682.0,784.0L681.5,787.9L687.2,788.2L684.6,793.3L690.4,793.7L687.8,798.8L693.5,799.1L690.9,804.2L696.6,804.5L694.1,809.6L699.8,809.9L697.2,815.1L702.9,815.4L700.4,820.5L706.1,820.8" fill="none" stroke="#1fd8e0" stroke-width="3.4" stroke-linejoin="round" stroke-linecap="round"/>
<path d="M668.0,812.0L668.8,815.8L674.0,815.5L673.4,820.7L678.6,820.3L678.0,825.5L683.2,825.2L682.5,830.4" fill="none" stroke="#30e8e8" stroke-width="3.0" stroke-linejoin="round" stroke-linecap="round"/>
<path d="M676.0,776.0L673.1,778.4L675.9,782.6L671.1,784.4L673.9,788.6L669.1,790.4L671.9,794.6L667.1,796.4L669.9,800.6" fill="none" stroke="#28d8f0" stroke-width="2.8" stroke-linejoin="round" stroke-linecap="round"/>
<path d="M647.5,758.0L651.5,758.4L651.8,752.6L657.0,755.1L657.3,749.3L662.5,751.7L662.8,745.9" fill="none" stroke="#1f78d6" stroke-width="3.8" stroke-linejoin="round" stroke-linecap="round"/>
<path d="M664.0,748.0L665.9,751.7L671.1,748.3L671.9,754.4L677.1,751.0L677.9,757.0L683.1,753.6" fill="none" stroke="#1a6ad0" stroke-width="4.0" stroke-linejoin="round" stroke-linecap="round"/>
<path d="M682.0,756.0L686.2,756.8L686.8,750.7L692.2,753.8L692.8,747.7L698.2,750.8L698.8,744.7" fill="none" stroke="#1f7ee0" stroke-width="4.0" stroke-linejoin="round" stroke-linecap="round"/>
<path d="M700.0,747.0L700.7,751.1L706.5,750.1L705.5,755.9L711.3,754.9L710.3,760.7" fill="none" stroke="#1a6ad0" stroke-width="3.8" stroke-linejoin="round" stroke-linecap="round"/>
<path d="M672.0,756.0L672.9,760.0L678.6,758.7L677.9,764.5L683.6,763.2L682.9,769.0L688.6,767.7L687.9,773.5L693.6,772.2" fill="none" stroke="#1f86e0" stroke-width="3.8" stroke-linejoin="round" stroke-linecap="round"/>
<path d="M698.0,754.0L694.2,754.7L695.0,760.1L689.6,759.3L690.4,764.7L685.0,763.9L685.8,769.3L680.4,768.4" fill="none" stroke="#2a90e8" stroke-width="3.6" stroke-linejoin="round" stroke-linecap="round"/>
<circle cx="663.5" cy="760" r="2.4" fill="#e8e020"/><circle cx="700" cy="826" r="2.2" fill="#c8e020"/>
</g>
<g filter="url(#b05)">
<defs><pattern id="lh" width="2.8" height="2.8" patternUnits="userSpaceOnUse" patternTransform="rotate(38)"><rect width="2.8" height="2.8" fill="#ee6200"/><path d="M0,0H2.8M0,0V2.8" stroke="#b83400" stroke-width="1"/></pattern><pattern id="lh2" width="3.4" height="3.4" patternUnits="userSpaceOnUse"><rect width="3.4" height="3.4" fill="#ea5c00"/><rect width="1.9" height="1.9" fill="#ff8c18"/></pattern><pattern id="lh3" width="2.4" height="8" patternUnits="userSpaceOnUse"><rect width="2.4" height="8" fill="#ff9210"/><rect width="1" height="8" fill="#e86000"/></pattern><clipPath id="lipoc"><ellipse cx="749.5" cy="786.8" rx="30.3" ry="39.8"/></clipPath></defs>
<ellipse cx="749.5" cy="786.8" rx="30.3" ry="39.8" fill="url(#lh3)"/>
<g clip-path="url(#lipoc)"><rect x="715" y="790" width="70" height="40" fill="url(#lh2)"/><ellipse cx="749.5" cy="830" rx="34" ry="14" fill="#c03400" opacity="0.55"/></g>
<ellipse cx="749.5" cy="784.7" rx="25" ry="24.5" fill="url(#lh)" stroke="#7a1600" stroke-width="2.8"/>
<path d="M725.5,791 A25,24.5 0 0 0 768,801" fill="none" stroke="#8a148a" stroke-width="1.8"/>
<ellipse cx="752" cy="784" rx="15" ry="14" fill="#ff8410" opacity="0.4"/>
</g>
<g filter="url(#b05)">
<path d="M789.9,794.6L797.0,775.6" stroke="#ff6a00" stroke-width="3.6" fill="none"/>
<path d="M806.0,776.6L812.4,797.6" stroke="#ff3200" stroke-width="3.4" fill="none"/>
<path d="M804.5,773.6L809.0,784.6" stroke="#ffa800" stroke-width="3" fill="none"/>
<path d="M794.4,782.6L797.5,774.6" stroke="#ffd040" stroke-width="1.6" fill="none"/>
<path d="M823.0,794.6L829.8,775.6" stroke="#ff6a00" stroke-width="3.6" fill="none"/>
<path d="M838.8,776.6L845.3,797.6" stroke="#ff3200" stroke-width="3.4" fill="none"/>
<path d="M837.2,773.6L841.8,784.6" stroke="#ffa800" stroke-width="3" fill="none"/>
<path d="M827.5,782.6L830.2,774.6" stroke="#ffd040" stroke-width="1.6" fill="none"/>
<path d="M855.4,794.6L862.5,775.6" stroke="#ff6a00" stroke-width="3.6" fill="none"/>
<path d="M871.5,776.6L879.2,797.6" stroke="#ff3200" stroke-width="3.4" fill="none"/>
<path d="M870.0,773.6L874.5,784.6" stroke="#ffa800" stroke-width="3" fill="none"/>
<path d="M859.9,782.6L863.0,774.6" stroke="#ffd040" stroke-width="1.6" fill="none"/>
<path d="M780.5,804.6C788.8,788.6 790.1,767.6 797.1,767.6C804.2,767.6 805.6,788.6 814.1,804.6" fill="none" stroke="#0a42b2" stroke-width="5" stroke-linecap="round"/>
<path d="M790.2,804.6C798.1,788.6 799.4,767.6 806.0,767.6C810.9,767.6 811.9,788.6 817.7,804.6" fill="none" stroke="#0a42b2" stroke-width="5" stroke-linecap="round"/>
<path d="M815.3,804.6C822.8,788.6 823.9,767.6 830.2,767.6C837.2,767.6 838.5,788.6 846.8,804.6" fill="none" stroke="#0a42b2" stroke-width="5" stroke-linecap="round"/>
<path d="M821.7,804.6C830.0,788.6 831.3,767.6 838.3,767.6C843.5,767.6 844.5,788.6 850.8,804.6" fill="none" stroke="#0a42b2" stroke-width="5" stroke-linecap="round"/>
<path d="M847.6,804.6C855.3,788.6 856.5,767.6 863.0,767.6C869.4,767.6 870.6,788.6 878.3,804.6" fill="none" stroke="#0a42b2" stroke-width="5" stroke-linecap="round"/>
<path d="M854.1,804.6C862.5,788.6 863.9,767.6 871.0,767.6C877.8,767.6 879.1,788.6 887.2,804.6" fill="none" stroke="#0a42b2" stroke-width="5" stroke-linecap="round"/>
<path d="M791.4,790.6L797.5,776.6" stroke="#ff5a00" stroke-width="2.2" fill="none" stroke-linecap="round"/>
<path d="M806.0,777.6L810.4,792.6" stroke="#ff2a00" stroke-width="2.2" fill="none" stroke-linecap="round"/>
<path d="M795.5,782.6L797.9,775.6" stroke="#ffd020" stroke-width="1.8" fill="none" stroke-linecap="round"/>
<path d="M824.5,790.6L830.2,776.6" stroke="#ff5a00" stroke-width="2.2" fill="none" stroke-linecap="round"/>
<path d="M838.8,777.6L843.3,792.6" stroke="#ff2a00" stroke-width="2.2" fill="none" stroke-linecap="round"/>
<path d="M828.2,782.6L830.6,775.6" stroke="#ffd020" stroke-width="1.8" fill="none" stroke-linecap="round"/>
<path d="M856.9,790.6L863.0,776.6" stroke="#ff5a00" stroke-width="2.2" fill="none" stroke-linecap="round"/>
<path d="M871.5,777.6L877.2,792.6" stroke="#ff2a00" stroke-width="2.2" fill="none" stroke-linecap="round"/>
<path d="M861.0,782.6L863.4,775.6" stroke="#ffd020" stroke-width="1.8" fill="none" stroke-linecap="round"/>
</g>
</svg>
</body></html>
